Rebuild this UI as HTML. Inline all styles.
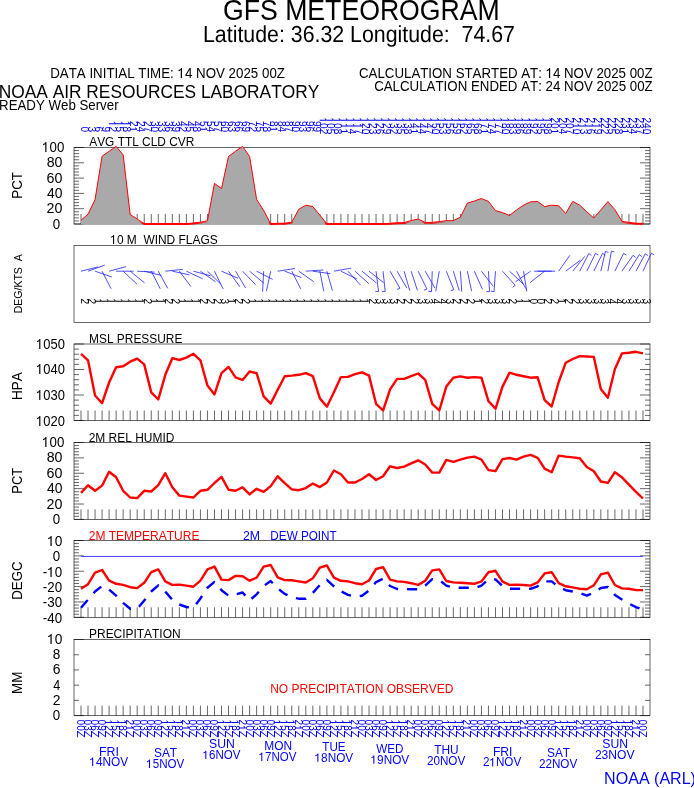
<!DOCTYPE html>
<html><head><meta charset="utf-8"><style>
html,body{margin:0;padding:0;background:#fff;}
body{width:694px;height:788px;overflow:hidden;}
svg{display:block;}
#w{will-change:transform;width:694px;height:788px;}
text{font-family:"Liberation Sans",sans-serif;font-kerning:none;font-variant-ligatures:none;}
</style></head><body><div id="w">
<svg width="694" height="788" viewBox="0 0 694 788" font-family="Liberation Sans, sans-serif">
<rect width="694" height="788" fill="#fff"/>
<text transform="translate(222.97,20) scale(0.9170,1)" font-size="29.07" fill="#000" xml:space="preserve">GFS METEOROGRAM</text>
<text transform="translate(202.99,42) scale(0.9176,1)" font-size="23.26" fill="#000" xml:space="preserve" style="text-rendering:geometricPrecision">Latitude: 36.32 Longitude:  74.67</text>
<g transform="translate(50.13,78) scale(0.9179,1)" fill="#000"><text font-size="14.53" xml:space="preserve">DATA INITIAL TIME:  4 NOV 2025 00Z</text><path transform="translate(138.9,0) scale(14.53)" d="M0.235 0H0.325V-0.688H0.262Q0.24-0.6 0.07-0.545V-0.47Q0.18-0.49 0.235-0.545Z"/></g>
<g transform="translate(359.04,78) scale(0.9143,1)" fill="#000"><text font-size="14.53" xml:space="preserve">CALCULATION STARTED AT:  4 NOV 2025 00Z</text><path transform="translate(204.33,0) scale(14.53)" d="M0.235 0H0.325V-0.688H0.262Q0.24-0.6 0.07-0.545V-0.47Q0.18-0.49 0.235-0.545Z"/></g>
<text transform="translate(374.13,91) scale(0.9158,1)" font-size="14.53" fill="#000" xml:space="preserve">CALCULATION ENDED AT: 24 NOV 2025 00Z</text>
<text transform="translate(-1.29,98) scale(0.9172,1)" font-size="18.9" fill="#000" xml:space="preserve">NOAA AIR RESOURCES LABORATORY</text>
<text transform="translate(-0.96,110) scale(0.9150,1)" font-size="14.53" fill="#000" xml:space="preserve">READY Web Server</text>
<rect x="74.0" y="147.5" width="576.0" height="76.5" fill="none" stroke="#000" stroke-width="0.6"/>
<path d="M81 224v-10M88.03 224v-10M95.05 224v-10M102.08 224v-10M109.1 224v-10M116.12 224v-10M123.15 224v-10M130.18 224v-10M137.2 224v-10M144.22 224v-10M151.25 224v-10M158.28 224v-10M165.3 224v-10M172.32 224v-10M179.35 224v-10M186.38 224v-10M193.4 224v-10M200.43 224v-10M207.45 224v-10M214.47 224v-10M221.5 224v-10M228.53 224v-10M235.55 224v-10M242.58 224v-10M249.6 224v-10M256.62 224v-10M263.65 224v-10M270.68 224v-10M277.7 224v-10M284.73 224v-10M291.75 224v-10M298.77 224v-10M305.8 224v-10M312.83 224v-10M319.85 224v-10M326.88 224v-10M333.9 224v-10M340.93 224v-10M347.95 224v-10M354.98 224v-10M362 224v-10M369.03 224v-10M376.05 224v-10M383.07 224v-10M390.1 224v-10M397.12 224v-10M404.15 224v-10M411.18 224v-10M418.2 224v-10M425.23 224v-10M432.25 224v-10M439.28 224v-10M446.3 224v-10M453.33 224v-10M460.35 224v-10M467.38 224v-10M474.4 224v-10M481.43 224v-10M488.45 224v-10M495.48 224v-10M502.5 224v-10M509.53 224v-10M516.55 224v-10M523.58 224v-10M530.6 224v-10M537.62 224v-10M544.65 224v-10M551.67 224v-10M558.7 224v-10M565.73 224v-10M572.75 224v-10M579.78 224v-10M586.8 224v-10M593.83 224v-10M600.85 224v-10M607.88 224v-10M614.9 224v-10M621.93 224v-10M628.95 224v-10M635.98 224v-10M643 224v-10" stroke="#000" stroke-width="0.6" fill="none"/>
<path d="M74.0 224h10M650.0 224h-10M74.0 220.94h5M650.0 220.94h-5M74.0 217.88h5M650.0 217.88h-5M74.0 214.82h5M650.0 214.82h-5M74.0 211.76h5M650.0 211.76h-5M74.0 208.7h10M650.0 208.7h-10M74.0 205.64h5M650.0 205.64h-5M74.0 202.58h5M650.0 202.58h-5M74.0 199.52h5M650.0 199.52h-5M74.0 196.46h5M650.0 196.46h-5M74.0 193.4h10M650.0 193.4h-10M74.0 190.34h5M650.0 190.34h-5M74.0 187.28h5M650.0 187.28h-5M74.0 184.22h5M650.0 184.22h-5M74.0 181.16h5M650.0 181.16h-5M74.0 178.1h10M650.0 178.1h-10M74.0 175.04h5M650.0 175.04h-5M74.0 171.98h5M650.0 171.98h-5M74.0 168.92h5M650.0 168.92h-5M74.0 165.86h5M650.0 165.86h-5M74.0 162.8h10M650.0 162.8h-10M74.0 159.74h5M650.0 159.74h-5M74.0 156.68h5M650.0 156.68h-5M74.0 153.62h5M650.0 153.62h-5M74.0 150.56h5M650.0 150.56h-5M74.0 147.5h10M650.0 147.5h-10" stroke="#000" stroke-width="0.6" fill="none"/>
<polygon points="81,224.5 81,220.2 88.03,214.2 95.05,199.5 102.08,156.2 109.1,151.3 116.12,146.4 123.15,154.8 130.18,214.5 137.2,219 144.22,223.8 151.25,223.8 158.28,223.8 165.3,223.8 172.32,223.8 179.35,223.8 186.38,223.8 193.4,223 200.43,222.2 207.45,220.9 214.47,183.4 221.5,188.6 228.53,156.4 235.55,151.2 242.58,146.4 249.6,156.4 256.62,199.4 263.65,210.4 270.68,223.8 277.7,223.4 284.73,223.4 291.75,222.2 298.77,209.3 305.8,205.2 312.83,206.6 319.85,215.1 326.88,223.8 333.9,223.8 340.93,223.6 347.95,223.6 354.98,223.6 362,223.6 369.03,223.6 376.05,223.6 383.07,223.6 390.1,223.4 397.12,222.8 404.15,222.6 411.18,220.5 418.2,219.1 425.23,222.4 432.25,222.4 439.28,221.6 446.3,220.7 453.33,220.6 460.35,217.2 467.38,203.1 474.4,201 481.43,198.5 488.45,201.4 495.48,210.6 502.5,212.6 509.53,215.5 516.55,209.9 523.58,205.2 530.6,201.8 537.62,201.5 544.65,206.6 551.67,205.2 558.7,205.8 565.73,213.5 572.75,201.4 579.78,205.2 586.8,211.8 593.83,218 600.85,209.9 607.88,201.6 614.9,209.7 621.93,221.3 628.95,222.4 635.98,223.4 643,223.4 643,224.5" fill="#a9a9a9" stroke="none"/>
<polyline points="81,220.2 88.03,214.2 95.05,199.5 102.08,156.2 109.1,151.3 116.12,146.4 123.15,154.8 130.18,214.5 137.2,219 144.22,223.8 151.25,223.8 158.28,223.8 165.3,223.8 172.32,223.8 179.35,223.8 186.38,223.8 193.4,223 200.43,222.2 207.45,220.9 214.47,183.4 221.5,188.6 228.53,156.4 235.55,151.2 242.58,146.4 249.6,156.4 256.62,199.4 263.65,210.4 270.68,223.8 277.7,223.4 284.73,223.4 291.75,222.2 298.77,209.3 305.8,205.2 312.83,206.6 319.85,215.1 326.88,223.8 333.9,223.8 340.93,223.6 347.95,223.6 354.98,223.6 362,223.6 369.03,223.6 376.05,223.6 383.07,223.6 390.1,223.4 397.12,222.8 404.15,222.6 411.18,220.5 418.2,219.1 425.23,222.4 432.25,222.4 439.28,221.6 446.3,220.7 453.33,220.6 460.35,217.2 467.38,203.1 474.4,201 481.43,198.5 488.45,201.4 495.48,210.6 502.5,212.6 509.53,215.5 516.55,209.9 523.58,205.2 530.6,201.8 537.62,201.5 544.65,206.6 551.67,205.2 558.7,205.8 565.73,213.5 572.75,201.4 579.78,205.2 586.8,211.8 593.83,218 600.85,209.9 607.88,201.6 614.9,209.7 621.93,221.3 628.95,222.4 635.98,223.4 643,223.4" fill="none" stroke="#f00" stroke-width="1.0" stroke-linejoin="round"/>
<clipPath id="cb"><rect x="70" y="222.6" width="590" height="4"/></clipPath>
<polyline points="81,220.6 88.03,214.6 95.05,199.9 102.08,156.6 109.1,151.7 116.12,146.8 123.15,155.2 130.18,214.9 137.2,219.4 144.22,224 151.25,224 158.28,224 165.3,224 172.32,224 179.35,224 186.38,224 193.4,223.4 200.43,222.6 207.45,221.3 214.47,183.8 221.5,189 228.53,156.8 235.55,151.6 242.58,146.8 249.6,156.8 256.62,199.8 263.65,210.8 270.68,224 277.7,223.8 284.73,223.8 291.75,222.6 298.77,209.7 305.8,205.6 312.83,207 319.85,215.5 326.88,224 333.9,224 340.93,224 347.95,224 354.98,224 362,224 369.03,224 376.05,224 383.07,224 390.1,223.8 397.12,223.2 404.15,223 411.18,220.9 418.2,219.5 425.23,222.8 432.25,222.8 439.28,222 446.3,221.1 453.33,221 460.35,217.6 467.38,203.5 474.4,201.4 481.43,198.9 488.45,201.8 495.48,211 502.5,213 509.53,215.9 516.55,210.3 523.58,205.6 530.6,202.2 537.62,201.9 544.65,207 551.67,205.6 558.7,206.2 565.73,213.9 572.75,201.8 579.78,205.6 586.8,212.2 593.83,218.4 600.85,210.3 607.88,202 614.9,210.1 621.93,221.7 628.95,222.8 635.98,223.8 643,223.8" fill="none" stroke="#f00" stroke-width="2.0" stroke-linejoin="round" clip-path="url(#cb)"/>
<rect x="74.0" y="245.5" width="576.0" height="76.8" fill="none" stroke="#000" stroke-width="0.6"/>
<path d="M81 271.2L98.12 266.93" stroke="#22f" stroke-width="0.8" fill="none"/>
<path d="M88.03 271.2L104.74 265.12" stroke="#22f" stroke-width="0.8" fill="none"/>
<path d="M95.05 271.2L111.84 276.98" stroke="#22f" stroke-width="0.8" fill="none"/>
<path d="M102.08 271.2L111.04 288.8" stroke="#22f" stroke-width="0.8" fill="none"/>
<path d="M109.1 271.2L126.16 266.63" stroke="#22f" stroke-width="0.8" fill="none"/>
<path d="M116.12 271.2L133.62 271.2" stroke="#22f" stroke-width="0.8" fill="none"/>
<path d="M123.15 271.2L136.84 283.97" stroke="#22f" stroke-width="0.8" fill="none"/>
<path d="M130.18 271.2L144.57 282.86" stroke="#22f" stroke-width="0.8" fill="none"/>
<path d="M137.2 271.2L154.68 272.12" stroke="#22f" stroke-width="0.8" fill="none"/>
<path d="M144.22 271.2L161.34 275.47" stroke="#22f" stroke-width="0.8" fill="none"/>
<path d="M151.25 271.2L160.22 288.8" stroke="#22f" stroke-width="0.8" fill="none"/>
<path d="M158.28 271.2L167.81 288.39" stroke="#22f" stroke-width="0.8" fill="none"/>
<path d="M165.3 271.2L182.73 269.37" stroke="#22f" stroke-width="0.8" fill="none"/>
<path d="M172.32 271.2L189.54 274.86" stroke="#22f" stroke-width="0.8" fill="none"/>
<path d="M179.35 271.2L190.93 286.57" stroke="#22f" stroke-width="0.8" fill="none"/>
<path d="M186.38 271.2L202.63 278.78" stroke="#22f" stroke-width="0.8" fill="none"/>
<path d="M193.4 271.2L210.46 275.77" stroke="#22f" stroke-width="0.8" fill="none"/>
<path d="M200.43 271.2L215.45 281.72" stroke="#22f" stroke-width="0.8" fill="none"/>
<path d="M207.45 271.2L220.95 284.24" stroke="#22f" stroke-width="0.8" fill="none"/>
<path d="M214.47 271.2L223.16 289" stroke="#22f" stroke-width="0.8" fill="none"/>
<path d="M221.5 271.2L237.95 278.18" stroke="#22f" stroke-width="0.8" fill="none"/>
<path d="M228.53 271.2L239.87 286.81" stroke="#22f" stroke-width="0.8" fill="none"/>
<path d="M235.55 271.2L245.62 287.96" stroke="#22f" stroke-width="0.8" fill="none"/>
<path d="M242.58 271.2L255.69 284.78" stroke="#22f" stroke-width="0.8" fill="none"/>
<path d="M249.6 271.2L263.83 283.14" stroke="#22f" stroke-width="0.8" fill="none"/>
<path d="M256.62 271.2L272.67 279.38" stroke="#22f" stroke-width="0.8" fill="none"/>
<path d="M263.65 271.2L262.58 291.66" stroke="#22f" stroke-width="0.8" fill="none"/>
<path d="M270.68 271.2L266.45 291.09" stroke="#22f" stroke-width="0.8" fill="none"/>
<path d="M277.7 271.2L295.04 268.45" stroke="#22f" stroke-width="0.8" fill="none"/>
<path d="M284.73 271.2L301.35 277.58" stroke="#22f" stroke-width="0.8" fill="none"/>
<path d="M291.75 271.2L300.72 288.8" stroke="#22f" stroke-width="0.8" fill="none"/>
<path d="M298.77 271.2L313.8 281.72" stroke="#22f" stroke-width="0.8" fill="none"/>
<path d="M305.8 271.2L323.27 269.98" stroke="#22f" stroke-width="0.8" fill="none"/>
<path d="M312.83 271.2L330.2 273.64" stroke="#22f" stroke-width="0.8" fill="none"/>
<path d="M319.85 271.2L323.74 291.19" stroke="#22f" stroke-width="0.8" fill="none"/>
<path d="M326.88 271.2L332.45 290.63" stroke="#22f" stroke-width="0.8" fill="none"/>
<path d="M333.9 271.2L351.21 268.15" stroke="#22f" stroke-width="0.8" fill="none"/>
<path d="M340.93 271.2L357.08 279.08" stroke="#22f" stroke-width="0.8" fill="none"/>
<path d="M347.95 271.2L360.65 285.3" stroke="#22f" stroke-width="0.8" fill="none"/>
<path d="M354.98 271.2L368.85 283.69" stroke="#22f" stroke-width="0.8" fill="none"/>
<path d="M362 271.2L376.4 282.86" stroke="#22f" stroke-width="0.8" fill="none"/>
<path d="M369.03 271.2L383.58 282.57" stroke="#22f" stroke-width="0.8" fill="none"/>
<path d="M376.05 271.2L378.54 291.49l-3.2 0.11" stroke="#22f" stroke-width="0.8" fill="none"/>
<path d="M383.07 271.2L385.21 291.55l-3.2 0.06" stroke="#22f" stroke-width="0.8" fill="none"/>
<path d="M390.1 271.2L399.9 288.18l-2.9 1.35" stroke="#22f" stroke-width="0.8" fill="none"/>
<path d="M397.12 271.2L406.93 288.18" stroke="#22f" stroke-width="0.8" fill="none"/>
<path d="M404.15 271.2L409.72 290.63" stroke="#22f" stroke-width="0.8" fill="none"/>
<path d="M411.18 271.2L417.4 290.36" stroke="#22f" stroke-width="0.8" fill="none"/>
<path d="M418.2 271.2L426.88 289l-2.99 1.15" stroke="#22f" stroke-width="0.8" fill="none"/>
<path d="M425.23 271.2L435.03 288.18" stroke="#22f" stroke-width="0.8" fill="none"/>
<path d="M432.25 271.2L431.53 291.68l-3.18 -0.39" stroke="#22f" stroke-width="0.8" fill="none"/>
<path d="M439.28 271.2L435.74 291.28" stroke="#22f" stroke-width="0.8" fill="none"/>
<path d="M446.3 271.2L453.79 289.73l-3.06 0.94" stroke="#22f" stroke-width="0.8" fill="none"/>
<path d="M453.33 271.2L459.23 290.5" stroke="#22f" stroke-width="0.8" fill="none"/>
<path d="M460.35 271.2L461.78 291.63" stroke="#22f" stroke-width="0.8" fill="none"/>
<path d="M467.38 271.2L471.6 291.09" stroke="#22f" stroke-width="0.8" fill="none"/>
<path d="M474.4 271.2L482.49 289.38" stroke="#22f" stroke-width="0.8" fill="none"/>
<path d="M481.43 271.2L493.24 286.32" stroke="#22f" stroke-width="0.8" fill="none"/>
<path d="M488.45 271.2L489.52 291.66l-3.2 -0.11" stroke="#22f" stroke-width="0.8" fill="none"/>
<path d="M495.48 271.2L494.05 291.63l-3.16 -0.5" stroke="#22f" stroke-width="0.8" fill="none"/>
<path d="M502.5 271.2L515.2 285.3l-2.56 1.93" stroke="#22f" stroke-width="0.8" fill="none"/>
<path d="M509.53 271.2L523.22 283.97" stroke="#22f" stroke-width="0.8" fill="none"/>
<path d="M516.55 271.2L525.8 288.6" stroke="#22f" stroke-width="0.8" fill="none"/>
<path d="M523.58 271.2L526.77 291.36" stroke="#22f" stroke-width="0.8" fill="none"/>
<path d="M530.6 271.2L515.58 281.72" stroke="#22f" stroke-width="0.8" fill="none"/>
<path d="M537.62 271.2L555.12 271.2" stroke="#22f" stroke-width="0.8" fill="none"/>
<path d="M544.65 271.2L530.09 282.57" stroke="#22f" stroke-width="0.8" fill="none"/>
<path d="M551.67 271.2L534.17 271.2" stroke="#22f" stroke-width="0.8" fill="none"/>
<path d="M558.7 271.2L569.8 255.35" stroke="#22f" stroke-width="0.8" fill="none"/>
<path d="M565.73 271.2L580.44 260.11" stroke="#22f" stroke-width="0.8" fill="none"/>
<path d="M572.75 271.2L584.79 256.33" stroke="#22f" stroke-width="0.8" fill="none"/>
<path d="M579.78 271.2L588.74 253.6l2.71 1.7" stroke="#22f" stroke-width="0.8" fill="none"/>
<path d="M586.8 271.2L595.48 253.4l2.74 1.65" stroke="#22f" stroke-width="0.8" fill="none"/>
<path d="M593.83 271.2L602.51 253.4l2.74 1.65" stroke="#22f" stroke-width="0.8" fill="none"/>
<path d="M600.85 271.2L605.42 251.41l3.04 0.99" stroke="#22f" stroke-width="0.8" fill="none"/>
<path d="M607.88 271.2L611.41 251.12l3.09 0.83" stroke="#22f" stroke-width="0.8" fill="none"/>
<path d="M614.9 271.2L623.58 253.4l2.74 1.65" stroke="#22f" stroke-width="0.8" fill="none"/>
<path d="M621.93 271.2L633.02 255.35l2.45 2.06" stroke="#22f" stroke-width="0.8" fill="none"/>
<path d="M628.95 271.2L639.29 254.66l2.56 1.93" stroke="#22f" stroke-width="0.8" fill="none"/>
<path d="M635.98 271.2L645.23 253.8l2.68 1.74" stroke="#22f" stroke-width="0.8" fill="none"/>
<path d="M643 271.2L651.39 253.21l2.77 1.6" stroke="#22f" stroke-width="0.8" fill="none"/>
<g fill="#000" font-size="10"><text transform="translate(80.7,298.4) rotate(90)">2</text></g>
<g fill="#000" font-size="10"><text transform="translate(87.73,298.4) rotate(90)">2</text></g>
<g fill="#000" font-size="10"><path transform="translate(94.75,298.4) rotate(90) scale(10)" d="M0.23 0V-0.705H0.33V0ZM0.23-0.705L0.085-0.55V-0.47L0.23-0.59Z"/></g>
<g fill="#000" font-size="10"><path transform="translate(101.78,298.4) rotate(90) scale(10)" d="M0.23 0V-0.705H0.33V0ZM0.23-0.705L0.085-0.55V-0.47L0.23-0.59Z"/></g>
<g fill="#000" font-size="10"><path transform="translate(108.8,298.4) rotate(90) scale(10)" d="M0.23 0V-0.705H0.33V0ZM0.23-0.705L0.085-0.55V-0.47L0.23-0.59Z"/></g>
<g fill="#000" font-size="10"><path transform="translate(115.83,298.4) rotate(90) scale(10)" d="M0.23 0V-0.705H0.33V0ZM0.23-0.705L0.085-0.55V-0.47L0.23-0.59Z"/></g>
<g fill="#000" font-size="10"><path transform="translate(122.85,298.4) rotate(90) scale(10)" d="M0.23 0V-0.705H0.33V0ZM0.23-0.705L0.085-0.55V-0.47L0.23-0.59Z"/></g>
<g fill="#000" font-size="10"><path transform="translate(129.88,298.4) rotate(90) scale(10)" d="M0.23 0V-0.705H0.33V0ZM0.23-0.705L0.085-0.55V-0.47L0.23-0.59Z"/></g>
<g fill="#000" font-size="10"><path transform="translate(136.9,298.4) rotate(90) scale(10)" d="M0.23 0V-0.705H0.33V0ZM0.23-0.705L0.085-0.55V-0.47L0.23-0.59Z"/></g>
<g fill="#000" font-size="10"><text transform="translate(143.92,298.4) rotate(90)">2</text></g>
<g fill="#000" font-size="10"><path transform="translate(150.95,298.4) rotate(90) scale(10)" d="M0.23 0V-0.705H0.33V0ZM0.23-0.705L0.085-0.55V-0.47L0.23-0.59Z"/></g>
<g fill="#000" font-size="10"><path transform="translate(157.97,298.4) rotate(90) scale(10)" d="M0.23 0V-0.705H0.33V0ZM0.23-0.705L0.085-0.55V-0.47L0.23-0.59Z"/></g>
<g fill="#000" font-size="10"><text transform="translate(165,298.4) rotate(90)">2</text></g>
<g fill="#000" font-size="10"><text transform="translate(172.02,298.4) rotate(90)">2</text></g>
<g fill="#000" font-size="10"><path transform="translate(179.05,298.4) rotate(90) scale(10)" d="M0.23 0V-0.705H0.33V0ZM0.23-0.705L0.085-0.55V-0.47L0.23-0.59Z"/></g>
<g fill="#000" font-size="10"><path transform="translate(186.07,298.4) rotate(90) scale(10)" d="M0.23 0V-0.705H0.33V0ZM0.23-0.705L0.085-0.55V-0.47L0.23-0.59Z"/></g>
<g fill="#000" font-size="10"><path transform="translate(193.1,298.4) rotate(90) scale(10)" d="M0.23 0V-0.705H0.33V0ZM0.23-0.705L0.085-0.55V-0.47L0.23-0.59Z"/></g>
<g fill="#000" font-size="10"><text transform="translate(200.12,298.4) rotate(90)">2</text></g>
<g fill="#000" font-size="10"><text transform="translate(207.15,298.4) rotate(90)">2</text></g>
<g fill="#000" font-size="10"><text transform="translate(214.17,298.4) rotate(90)">2</text></g>
<g fill="#000" font-size="10"><text transform="translate(221.2,298.4) rotate(90)">3</text></g>
<g fill="#000" font-size="10"><path transform="translate(228.22,298.4) rotate(90) scale(10)" d="M0.23 0V-0.705H0.33V0ZM0.23-0.705L0.085-0.55V-0.47L0.23-0.59Z"/></g>
<g fill="#000" font-size="10"><text transform="translate(235.25,298.4) rotate(90)">2</text></g>
<g fill="#000" font-size="10"><text transform="translate(242.28,298.4) rotate(90)">2</text></g>
<g fill="#000" font-size="10"><path transform="translate(249.3,298.4) rotate(90) scale(10)" d="M0.23 0V-0.705H0.33V0ZM0.23-0.705L0.085-0.55V-0.47L0.23-0.59Z"/></g>
<g fill="#000" font-size="10"><path transform="translate(256.32,298.4) rotate(90) scale(10)" d="M0.23 0V-0.705H0.33V0ZM0.23-0.705L0.085-0.55V-0.47L0.23-0.59Z"/></g>
<g fill="#000" font-size="10"><path transform="translate(263.35,298.4) rotate(90) scale(10)" d="M0.23 0V-0.705H0.33V0ZM0.23-0.705L0.085-0.55V-0.47L0.23-0.59Z"/></g>
<g fill="#000" font-size="10"><path transform="translate(270.38,298.4) rotate(90) scale(10)" d="M0.23 0V-0.705H0.33V0ZM0.23-0.705L0.085-0.55V-0.47L0.23-0.59Z"/></g>
<g fill="#000" font-size="10"><path transform="translate(277.4,298.4) rotate(90) scale(10)" d="M0.23 0V-0.705H0.33V0ZM0.23-0.705L0.085-0.55V-0.47L0.23-0.59Z"/></g>
<g fill="#000" font-size="10"><path transform="translate(284.43,298.4) rotate(90) scale(10)" d="M0.23 0V-0.705H0.33V0ZM0.23-0.705L0.085-0.55V-0.47L0.23-0.59Z"/></g>
<g fill="#000" font-size="10"><path transform="translate(291.45,298.4) rotate(90) scale(10)" d="M0.23 0V-0.705H0.33V0ZM0.23-0.705L0.085-0.55V-0.47L0.23-0.59Z"/></g>
<g fill="#000" font-size="10"><path transform="translate(298.47,298.4) rotate(90) scale(10)" d="M0.23 0V-0.705H0.33V0ZM0.23-0.705L0.085-0.55V-0.47L0.23-0.59Z"/></g>
<g fill="#000" font-size="10"><path transform="translate(305.5,298.4) rotate(90) scale(10)" d="M0.23 0V-0.705H0.33V0ZM0.23-0.705L0.085-0.55V-0.47L0.23-0.59Z"/></g>
<g fill="#000" font-size="10"><path transform="translate(312.53,298.4) rotate(90) scale(10)" d="M0.23 0V-0.705H0.33V0ZM0.23-0.705L0.085-0.55V-0.47L0.23-0.59Z"/></g>
<g fill="#000" font-size="10"><path transform="translate(319.55,298.4) rotate(90) scale(10)" d="M0.23 0V-0.705H0.33V0ZM0.23-0.705L0.085-0.55V-0.47L0.23-0.59Z"/></g>
<g fill="#000" font-size="10"><path transform="translate(326.57,298.4) rotate(90) scale(10)" d="M0.23 0V-0.705H0.33V0ZM0.23-0.705L0.085-0.55V-0.47L0.23-0.59Z"/></g>
<g fill="#000" font-size="10"><path transform="translate(333.6,298.4) rotate(90) scale(10)" d="M0.23 0V-0.705H0.33V0ZM0.23-0.705L0.085-0.55V-0.47L0.23-0.59Z"/></g>
<g fill="#000" font-size="10"><path transform="translate(340.62,298.4) rotate(90) scale(10)" d="M0.23 0V-0.705H0.33V0ZM0.23-0.705L0.085-0.55V-0.47L0.23-0.59Z"/></g>
<g fill="#000" font-size="10"><path transform="translate(347.65,298.4) rotate(90) scale(10)" d="M0.23 0V-0.705H0.33V0ZM0.23-0.705L0.085-0.55V-0.47L0.23-0.59Z"/></g>
<g fill="#000" font-size="10"><path transform="translate(354.68,298.4) rotate(90) scale(10)" d="M0.23 0V-0.705H0.33V0ZM0.23-0.705L0.085-0.55V-0.47L0.23-0.59Z"/></g>
<g fill="#000" font-size="10"><path transform="translate(361.7,298.4) rotate(90) scale(10)" d="M0.23 0V-0.705H0.33V0ZM0.23-0.705L0.085-0.55V-0.47L0.23-0.59Z"/></g>
<g fill="#000" font-size="10"><text transform="translate(368.73,298.4) rotate(90)">2</text></g>
<g fill="#000" font-size="10"><text transform="translate(375.75,298.4) rotate(90)">3</text></g>
<g fill="#000" font-size="10"><text transform="translate(382.77,298.4) rotate(90)">3</text></g>
<g fill="#000" font-size="10"><text transform="translate(389.8,298.4) rotate(90)">3</text></g>
<g fill="#000" font-size="10"><text transform="translate(396.82,298.4) rotate(90)">2</text></g>
<g fill="#000" font-size="10"><text transform="translate(403.85,298.4) rotate(90)">2</text></g>
<g fill="#000" font-size="10"><text transform="translate(410.88,298.4) rotate(90)">2</text></g>
<g fill="#000" font-size="10"><text transform="translate(417.9,298.4) rotate(90)">3</text></g>
<g fill="#000" font-size="10"><text transform="translate(424.93,298.4) rotate(90)">3</text></g>
<g fill="#000" font-size="10"><text transform="translate(431.95,298.4) rotate(90)">4</text></g>
<g fill="#000" font-size="10"><text transform="translate(438.98,298.4) rotate(90)">4</text></g>
<g fill="#000" font-size="10"><text transform="translate(446,298.4) rotate(90)">3</text></g>
<g fill="#000" font-size="10"><text transform="translate(453.03,298.4) rotate(90)">2</text></g>
<g fill="#000" font-size="10"><text transform="translate(460.05,298.4) rotate(90)">2</text></g>
<g fill="#000" font-size="10"><text transform="translate(467.07,298.4) rotate(90)">2</text></g>
<g fill="#000" font-size="10"><path transform="translate(474.1,298.4) rotate(90) scale(10)" d="M0.23 0V-0.705H0.33V0ZM0.23-0.705L0.085-0.55V-0.47L0.23-0.59Z"/></g>
<g fill="#000" font-size="10"><text transform="translate(481.12,298.4) rotate(90)">2</text></g>
<g fill="#000" font-size="10"><text transform="translate(488.15,298.4) rotate(90)">3</text></g>
<g fill="#000" font-size="10"><text transform="translate(495.18,298.4) rotate(90)">3</text></g>
<g fill="#000" font-size="10"><text transform="translate(502.2,298.4) rotate(90)">3</text></g>
<g fill="#000" font-size="10"><text transform="translate(509.23,298.4) rotate(90)">2</text></g>
<g fill="#000" font-size="10"><path transform="translate(516.25,298.4) rotate(90) scale(10)" d="M0.23 0V-0.705H0.33V0ZM0.23-0.705L0.085-0.55V-0.47L0.23-0.59Z"/></g>
<g fill="#000" font-size="10"><path transform="translate(523.28,298.4) rotate(90) scale(10)" d="M0.23 0V-0.705H0.33V0ZM0.23-0.705L0.085-0.55V-0.47L0.23-0.59Z"/></g>
<g fill="#000" font-size="10"><text transform="translate(530.3,298.4) rotate(90)">0</text></g>
<g fill="#000" font-size="10"><text transform="translate(537.33,298.4) rotate(90)">0</text></g>
<g fill="#000" font-size="10"><text transform="translate(544.35,298.4) rotate(90)">2</text></g>
<g fill="#000" font-size="10"><text transform="translate(551.38,298.4) rotate(90)">2</text></g>
<g fill="#000" font-size="10"><path transform="translate(558.4,298.4) rotate(90) scale(10)" d="M0.23 0V-0.705H0.33V0ZM0.23-0.705L0.085-0.55V-0.47L0.23-0.59Z"/></g>
<g fill="#000" font-size="10"><text transform="translate(565.43,298.4) rotate(90)">2</text></g>
<g fill="#000" font-size="10"><text transform="translate(572.45,298.4) rotate(90)">2</text></g>
<g fill="#000" font-size="10"><text transform="translate(579.48,298.4) rotate(90)">3</text></g>
<g fill="#000" font-size="10"><text transform="translate(586.5,298.4) rotate(90)">3</text></g>
<g fill="#000" font-size="10"><text transform="translate(593.53,298.4) rotate(90)">3</text></g>
<g fill="#000" font-size="10"><text transform="translate(600.55,298.4) rotate(90)">3</text></g>
<g fill="#000" font-size="10"><text transform="translate(607.58,298.4) rotate(90)">4</text></g>
<g fill="#000" font-size="10"><text transform="translate(614.6,298.4) rotate(90)">4</text></g>
<g fill="#000" font-size="10"><text transform="translate(621.63,298.4) rotate(90)">3</text></g>
<g fill="#000" font-size="10"><text transform="translate(628.65,298.4) rotate(90)">3</text></g>
<g fill="#000" font-size="10"><text transform="translate(635.68,298.4) rotate(90)">3</text></g>
<g fill="#000" font-size="10"><text transform="translate(642.7,298.4) rotate(90)">3</text></g>
<path d="M81 420.5v-10M88.03 420.5v-10M95.05 420.5v-10M102.08 420.5v-10M109.1 420.5v-10M116.12 420.5v-10M123.15 420.5v-10M130.18 420.5v-10M137.2 420.5v-10M144.22 420.5v-10M151.25 420.5v-10M158.28 420.5v-10M165.3 420.5v-10M172.32 420.5v-10M179.35 420.5v-10M186.38 420.5v-10M193.4 420.5v-10M200.43 420.5v-10M207.45 420.5v-10M214.47 420.5v-10M221.5 420.5v-10M228.53 420.5v-10M235.55 420.5v-10M242.58 420.5v-10M249.6 420.5v-10M256.62 420.5v-10M263.65 420.5v-10M270.68 420.5v-10M277.7 420.5v-10M284.73 420.5v-10M291.75 420.5v-10M298.77 420.5v-10M305.8 420.5v-10M312.83 420.5v-10M319.85 420.5v-10M326.88 420.5v-10M333.9 420.5v-10M340.93 420.5v-10M347.95 420.5v-10M354.98 420.5v-10M362 420.5v-10M369.03 420.5v-10M376.05 420.5v-10M383.07 420.5v-10M390.1 420.5v-10M397.12 420.5v-10M404.15 420.5v-10M411.18 420.5v-10M418.2 420.5v-10M425.23 420.5v-10M432.25 420.5v-10M439.28 420.5v-10M446.3 420.5v-10M453.33 420.5v-10M460.35 420.5v-10M467.38 420.5v-10M474.4 420.5v-10M481.43 420.5v-10M488.45 420.5v-10M495.48 420.5v-10M502.5 420.5v-10M509.53 420.5v-10M516.55 420.5v-10M523.58 420.5v-10M530.6 420.5v-10M537.62 420.5v-10M544.65 420.5v-10M551.67 420.5v-10M558.7 420.5v-10M565.73 420.5v-10M572.75 420.5v-10M579.78 420.5v-10M586.8 420.5v-10M593.83 420.5v-10M600.85 420.5v-10M607.88 420.5v-10M614.9 420.5v-10M621.93 420.5v-10M628.95 420.5v-10M635.98 420.5v-10M643 420.5v-10" stroke="#000" stroke-width="0.6" fill="none"/>
<path d="M74.0 420.5h10M650.0 420.5h-10M74.0 415.4h5M650.0 415.4h-5M74.0 410.3h5M650.0 410.3h-5M74.0 405.2h5M650.0 405.2h-5M74.0 400.1h5M650.0 400.1h-5M74.0 395h10M650.0 395h-10M74.0 389.9h5M650.0 389.9h-5M74.0 384.8h5M650.0 384.8h-5M74.0 379.7h5M650.0 379.7h-5M74.0 374.6h5M650.0 374.6h-5M74.0 369.5h10M650.0 369.5h-10M74.0 364.4h5M650.0 364.4h-5M74.0 359.3h5M650.0 359.3h-5M74.0 354.2h5M650.0 354.2h-5M74.0 349.1h5M650.0 349.1h-5M74.0 344h10M650.0 344h-10" stroke="#000" stroke-width="0.6" fill="none"/>
<polyline points="81,353.8 88.03,360.3 95.05,395.5 102.08,403.2 109.1,382.5 116.12,367.3 123.15,366.3 130.18,361.7 137.2,358.6 144.22,364.4 151.25,392.4 158.28,399.5 165.3,374.8 172.32,358.2 179.35,360 186.38,357.6 193.4,353.8 200.43,360.3 207.45,385.6 214.47,394.4 221.5,373.1 228.53,366.9 235.55,377.3 242.58,380 249.6,371.5 256.62,373.1 263.65,396.4 270.68,403.6 277.7,389.7 284.73,376.2 291.75,375.6 298.77,374.8 305.8,373.1 312.83,376.2 319.85,398.4 326.88,406.7 333.9,392.3 340.93,377.1 347.95,376.9 354.98,374.2 362,372.3 369.03,375.6 376.05,403.8 383.07,410.5 390.1,389.3 397.12,378.9 404.15,378.9 411.18,376.2 418.2,373.5 425.23,379.8 432.25,403.8 439.28,410.5 446.3,386.6 453.33,377.7 460.35,376.4 467.38,377.8 474.4,377.1 481.43,377.7 488.45,401.1 495.48,408.8 502.5,386.6 509.53,372.7 516.55,374.8 523.58,376.2 530.6,377.7 537.62,377.3 544.65,400.1 551.67,406.5 558.7,382 565.73,362.7 572.75,359 579.78,356.1 586.8,356.5 593.83,356.9 600.85,389 607.88,397.8 614.9,369 621.93,353.4 628.95,352.8 635.98,351.8 643,353.4" fill="none" stroke="#f00" stroke-width="2.4" stroke-linejoin="round"/>
<rect x="74.0" y="344.0" width="576.0" height="76.5" fill="none" stroke="#000" stroke-width="0.6"/>
<path d="M81 519.4v-10M88.03 519.4v-10M95.05 519.4v-10M102.08 519.4v-10M109.1 519.4v-10M116.12 519.4v-10M123.15 519.4v-10M130.18 519.4v-10M137.2 519.4v-10M144.22 519.4v-10M151.25 519.4v-10M158.28 519.4v-10M165.3 519.4v-10M172.32 519.4v-10M179.35 519.4v-10M186.38 519.4v-10M193.4 519.4v-10M200.43 519.4v-10M207.45 519.4v-10M214.47 519.4v-10M221.5 519.4v-10M228.53 519.4v-10M235.55 519.4v-10M242.58 519.4v-10M249.6 519.4v-10M256.62 519.4v-10M263.65 519.4v-10M270.68 519.4v-10M277.7 519.4v-10M284.73 519.4v-10M291.75 519.4v-10M298.77 519.4v-10M305.8 519.4v-10M312.83 519.4v-10M319.85 519.4v-10M326.88 519.4v-10M333.9 519.4v-10M340.93 519.4v-10M347.95 519.4v-10M354.98 519.4v-10M362 519.4v-10M369.03 519.4v-10M376.05 519.4v-10M383.07 519.4v-10M390.1 519.4v-10M397.12 519.4v-10M404.15 519.4v-10M411.18 519.4v-10M418.2 519.4v-10M425.23 519.4v-10M432.25 519.4v-10M439.28 519.4v-10M446.3 519.4v-10M453.33 519.4v-10M460.35 519.4v-10M467.38 519.4v-10M474.4 519.4v-10M481.43 519.4v-10M488.45 519.4v-10M495.48 519.4v-10M502.5 519.4v-10M509.53 519.4v-10M516.55 519.4v-10M523.58 519.4v-10M530.6 519.4v-10M537.62 519.4v-10M544.65 519.4v-10M551.67 519.4v-10M558.7 519.4v-10M565.73 519.4v-10M572.75 519.4v-10M579.78 519.4v-10M586.8 519.4v-10M593.83 519.4v-10M600.85 519.4v-10M607.88 519.4v-10M614.9 519.4v-10M621.93 519.4v-10M628.95 519.4v-10M635.98 519.4v-10M643 519.4v-10" stroke="#000" stroke-width="0.6" fill="none"/>
<path d="M74.0 519.4h10M650.0 519.4h-10M74.0 516.32h5M650.0 516.32h-5M74.0 513.25h5M650.0 513.25h-5M74.0 510.17h5M650.0 510.17h-5M74.0 507.1h5M650.0 507.1h-5M74.0 504.02h10M650.0 504.02h-10M74.0 500.94h5M650.0 500.94h-5M74.0 497.87h5M650.0 497.87h-5M74.0 494.79h5M650.0 494.79h-5M74.0 491.72h5M650.0 491.72h-5M74.0 488.64h10M650.0 488.64h-10M74.0 485.56h5M650.0 485.56h-5M74.0 482.49h5M650.0 482.49h-5M74.0 479.41h5M650.0 479.41h-5M74.0 476.34h5M650.0 476.34h-5M74.0 473.26h10M650.0 473.26h-10M74.0 470.18h5M650.0 470.18h-5M74.0 467.11h5M650.0 467.11h-5M74.0 464.03h5M650.0 464.03h-5M74.0 460.96h5M650.0 460.96h-5M74.0 457.88h10M650.0 457.88h-10M74.0 454.8h5M650.0 454.8h-5M74.0 451.73h5M650.0 451.73h-5M74.0 448.65h5M650.0 448.65h-5M74.0 445.58h5M650.0 445.58h-5M74.0 442.5h10M650.0 442.5h-10" stroke="#000" stroke-width="0.6" fill="none"/>
<polyline points="81,492.9 88.03,485.2 95.05,490.8 102.08,485.6 109.1,471.7 116.12,477.3 123.15,490.8 130.18,497.5 137.2,498.1 144.22,490.8 151.25,491.5 158.28,485.2 165.3,473.2 172.32,487.3 179.35,495.6 186.38,496.6 193.4,497.5 200.43,490.8 207.45,489.8 214.47,483 221.5,476.9 228.53,489.8 235.55,490.8 242.58,487.3 249.6,494.4 256.62,488.8 263.65,491.9 270.68,486.1 277.7,476.3 284.73,483.2 291.75,489.4 298.77,490.2 305.8,488.1 312.83,483.6 319.85,487.1 326.88,482.5 333.9,470.5 340.93,474.2 347.95,482.5 354.98,482.5 362,479 369.03,474.2 376.05,480 383.07,476.3 390.1,466.3 397.12,468 404.15,466.6 411.18,463.4 418.2,460.3 425.23,464.5 432.25,472.6 439.28,472.6 446.3,459.9 453.33,461.8 460.35,459.7 467.38,457.6 474.4,456.6 481.43,459.7 488.45,470.1 495.48,471.1 502.5,459.1 509.53,458 516.55,459.7 523.58,456.6 530.6,454.9 537.62,457.8 544.65,468.6 551.67,472.2 558.7,455.6 565.73,456.6 572.75,457.4 579.78,458.3 586.8,467 593.83,471.3 600.85,481.5 607.88,482.9 614.9,472.2 621.93,477.3 628.95,484.6 635.98,491.9 643,498.5" fill="none" stroke="#f00" stroke-width="2.4" stroke-linejoin="round"/>
<rect x="74.0" y="442.5" width="576.0" height="76.9" fill="none" stroke="#000" stroke-width="0.6"/>
<path d="M81 617.3v-10M88.03 617.3v-10M95.05 617.3v-10M102.08 617.3v-10M109.1 617.3v-10M116.12 617.3v-10M123.15 617.3v-10M130.18 617.3v-10M137.2 617.3v-10M144.22 617.3v-10M151.25 617.3v-10M158.28 617.3v-10M165.3 617.3v-10M172.32 617.3v-10M179.35 617.3v-10M186.38 617.3v-10M193.4 617.3v-10M200.43 617.3v-10M207.45 617.3v-10M214.47 617.3v-10M221.5 617.3v-10M228.53 617.3v-10M235.55 617.3v-10M242.58 617.3v-10M249.6 617.3v-10M256.62 617.3v-10M263.65 617.3v-10M270.68 617.3v-10M277.7 617.3v-10M284.73 617.3v-10M291.75 617.3v-10M298.77 617.3v-10M305.8 617.3v-10M312.83 617.3v-10M319.85 617.3v-10M326.88 617.3v-10M333.9 617.3v-10M340.93 617.3v-10M347.95 617.3v-10M354.98 617.3v-10M362 617.3v-10M369.03 617.3v-10M376.05 617.3v-10M383.07 617.3v-10M390.1 617.3v-10M397.12 617.3v-10M404.15 617.3v-10M411.18 617.3v-10M418.2 617.3v-10M425.23 617.3v-10M432.25 617.3v-10M439.28 617.3v-10M446.3 617.3v-10M453.33 617.3v-10M460.35 617.3v-10M467.38 617.3v-10M474.4 617.3v-10M481.43 617.3v-10M488.45 617.3v-10M495.48 617.3v-10M502.5 617.3v-10M509.53 617.3v-10M516.55 617.3v-10M523.58 617.3v-10M530.6 617.3v-10M537.62 617.3v-10M544.65 617.3v-10M551.67 617.3v-10M558.7 617.3v-10M565.73 617.3v-10M572.75 617.3v-10M579.78 617.3v-10M586.8 617.3v-10M593.83 617.3v-10M600.85 617.3v-10M607.88 617.3v-10M614.9 617.3v-10M621.93 617.3v-10M628.95 617.3v-10M635.98 617.3v-10M643 617.3v-10" stroke="#000" stroke-width="0.6" fill="none"/>
<path d="M74.0 617.3h10M650.0 617.3h-10M74.0 614.23h5M650.0 614.23h-5M74.0 611.16h5M650.0 611.16h-5M74.0 608.08h5M650.0 608.08h-5M74.0 605.01h5M650.0 605.01h-5M74.0 601.94h10M650.0 601.94h-10M74.0 598.87h5M650.0 598.87h-5M74.0 595.8h5M650.0 595.8h-5M74.0 592.72h5M650.0 592.72h-5M74.0 589.65h5M650.0 589.65h-5M74.0 586.58h10M650.0 586.58h-10M74.0 583.51h5M650.0 583.51h-5M74.0 580.44h5M650.0 580.44h-5M74.0 577.36h5M650.0 577.36h-5M74.0 574.29h5M650.0 574.29h-5M74.0 571.22h10M650.0 571.22h-10M74.0 568.15h5M650.0 568.15h-5M74.0 565.08h5M650.0 565.08h-5M74.0 562h5M650.0 562h-5M74.0 558.93h5M650.0 558.93h-5M74.0 555.86h10M650.0 555.86h-10M74.0 552.79h5M650.0 552.79h-5M74.0 549.72h5M650.0 549.72h-5M74.0 546.64h5M650.0 546.64h-5M74.0 543.57h5M650.0 543.57h-5M74.0 540.5h10M650.0 540.5h-10" stroke="#000" stroke-width="0.6" fill="none"/>
<path d="M81 556.45H643" stroke="#44f" stroke-width="1"/>
<polyline points="81,588.8 88.03,584.2 95.05,572.7 102.08,570 109.1,580.7 116.12,583.8 123.15,584.9 130.18,587.2 137.2,588.1 144.22,582.8 151.25,572.2 158.28,569.4 165.3,581.4 172.32,584.9 179.35,584.6 186.38,585.6 193.4,586.7 200.43,580.7 207.45,569.4 214.47,566.6 221.5,579.6 228.53,580.1 235.55,575.9 242.58,576.3 249.6,580.7 256.62,577.7 263.65,566.6 270.68,565 277.7,577.3 284.73,580.1 291.75,580.3 298.77,581.4 305.8,582.5 312.83,578.3 319.85,567.6 326.88,565.5 333.9,577.7 340.93,580.8 347.95,581.4 354.98,583.2 362,584.2 369.03,580.5 376.05,569 383.07,567.2 390.1,579.6 397.12,581.4 404.15,581.9 411.18,583.2 418.2,584.9 425.23,580.7 432.25,570.4 439.28,569.4 446.3,581 453.33,582.4 460.35,582.8 467.38,583.2 474.4,583.8 481.43,581.4 488.45,572.2 495.48,570.8 502.5,581.7 509.53,584.9 516.55,584.6 523.58,585 530.6,585.6 537.62,582.4 544.65,573.4 551.67,572.2 558.7,583.2 565.73,586.3 572.75,587.4 579.78,588.8 586.8,589.2 593.83,585.3 600.85,574.4 607.88,572.6 614.9,585 621.93,588.4 628.95,588.8 635.98,590.1 643,590.1" fill="none" stroke="#f00" stroke-width="2.4" stroke-linejoin="round"/>
<polyline points="81,607.7 88.03,599.7 95.05,591.5 102.08,586 109.1,589.5 116.12,595.7 123.15,602.9 130.18,608.7 137.2,608.8 144.22,600.5 151.25,591.5 158.28,585.3 165.3,591.6 172.32,599.8 179.35,604.5 186.38,607 193.4,607.7 200.43,598.5 207.45,587.7 214.47,581.9 221.5,590.2 228.53,595.7 235.55,594.6 242.58,592.5 249.6,600.4 256.62,594.3 263.65,586 270.68,581 277.7,588.4 284.73,593.9 291.75,597.1 298.77,598.7 305.8,598.7 312.83,592.9 319.85,584.9 326.88,579.8 333.9,586.3 340.93,591.3 347.95,594.9 354.98,596.7 362,595.7 369.03,590.4 376.05,582.1 383.07,578.7 390.1,586 397.12,589 404.15,589 411.18,589.3 418.2,589.3 425.23,585.6 432.25,579.2 439.28,580 446.3,585.6 453.33,587.7 460.35,587.7 467.38,587.7 474.4,588.4 481.43,585.6 488.45,579.4 495.48,579.4 502.5,586 509.53,588.8 516.55,588.8 523.58,588.8 530.6,588.8 537.62,586.3 544.65,581.4 551.67,581.4 558.7,587 565.73,590.2 572.75,591.5 579.78,592.9 586.8,595.6 593.83,592.7 600.85,588 607.88,587 614.9,594.9 621.93,599.5 628.95,603.6 635.98,607.1 643,609.8" fill="none" stroke="#00f" stroke-width="2.4" stroke-linejoin="round" stroke-dasharray="10.2 8.93"/>
<rect x="74.0" y="540.5" width="576.0" height="76.8" fill="none" stroke="#000" stroke-width="0.6"/>
<path d="M81 715.6v-10M88.03 715.6v-10M95.05 715.6v-10M102.08 715.6v-10M109.1 715.6v-10M116.12 715.6v-10M123.15 715.6v-10M130.18 715.6v-10M137.2 715.6v-10M144.22 715.6v-10M151.25 715.6v-10M158.28 715.6v-10M165.3 715.6v-10M172.32 715.6v-10M179.35 715.6v-10M186.38 715.6v-10M193.4 715.6v-10M200.43 715.6v-10M207.45 715.6v-10M214.47 715.6v-10M221.5 715.6v-10M228.53 715.6v-10M235.55 715.6v-10M242.58 715.6v-10M249.6 715.6v-10M256.62 715.6v-10M263.65 715.6v-10M270.68 715.6v-10M277.7 715.6v-10M284.73 715.6v-10M291.75 715.6v-10M298.77 715.6v-10M305.8 715.6v-10M312.83 715.6v-10M319.85 715.6v-10M326.88 715.6v-10M333.9 715.6v-10M340.93 715.6v-10M347.95 715.6v-10M354.98 715.6v-10M362 715.6v-10M369.03 715.6v-10M376.05 715.6v-10M383.07 715.6v-10M390.1 715.6v-10M397.12 715.6v-10M404.15 715.6v-10M411.18 715.6v-10M418.2 715.6v-10M425.23 715.6v-10M432.25 715.6v-10M439.28 715.6v-10M446.3 715.6v-10M453.33 715.6v-10M460.35 715.6v-10M467.38 715.6v-10M474.4 715.6v-10M481.43 715.6v-10M488.45 715.6v-10M495.48 715.6v-10M502.5 715.6v-10M509.53 715.6v-10M516.55 715.6v-10M523.58 715.6v-10M530.6 715.6v-10M537.62 715.6v-10M544.65 715.6v-10M551.67 715.6v-10M558.7 715.6v-10M565.73 715.6v-10M572.75 715.6v-10M579.78 715.6v-10M586.8 715.6v-10M593.83 715.6v-10M600.85 715.6v-10M607.88 715.6v-10M614.9 715.6v-10M621.93 715.6v-10M628.95 715.6v-10M635.98 715.6v-10M643 715.6v-10" stroke="#000" stroke-width="0.6" fill="none"/>
<path d="M74.0 715.6h10M650.0 715.6h-10M74.0 700.38h5M650.0 700.38h-5M74.0 685.16h5M650.0 685.16h-5M74.0 669.94h5M650.0 669.94h-5M74.0 654.72h5M650.0 654.72h-5M74.0 639.5h10M650.0 639.5h-10" stroke="#000" stroke-width="0.6" fill="none"/>
<rect x="74.0" y="639.5" width="576.0" height="76.1" fill="none" stroke="#000" stroke-width="0.6"/>
<text transform="translate(89.2,146) scale(0.9107,1)" font-size="13.08" fill="#000" xml:space="preserve">AVG TTL CLD CVR</text>
<g transform="translate(110.24,244) scale(0.9134,1)" fill="#000"><text font-size="13.08" xml:space="preserve"> 0 M  WIND FLAGS</text><path transform="translate(0,0) scale(13.08)" d="M0.235 0H0.325V-0.688H0.262Q0.24-0.6 0.07-0.545V-0.47Q0.18-0.49 0.235-0.545Z"/></g>
<text transform="translate(89.05,343) scale(0.9112,1)" font-size="13.08" fill="#000" xml:space="preserve">MSL PRESSURE</text>
<text transform="translate(88.7,442) scale(0.9147,1)" font-size="13.08" fill="#000" xml:space="preserve">2M REL HUMID</text>
<text transform="translate(88.7,540) scale(0.9185,1)" font-size="13.08" fill="#f00" xml:space="preserve">2M TEMPERATURE</text>
<text transform="translate(242.88,540) scale(0.9404,1)" font-size="13.08" fill="#00f" xml:space="preserve">2M</text>
<text transform="translate(270.36,540) scale(0.8964,1)" font-size="13.08" fill="#00f" xml:space="preserve">DEW POINT</text>
<text transform="translate(89.04,638) scale(0.9141,1)" font-size="13.08" fill="#000" xml:space="preserve">PRECIPITATION</text>
<text transform="translate(270.14,693) scale(0.9173,1)" font-size="13.08" fill="#f00" xml:space="preserve">NO PRECIPITATION OBSERVED</text>
<text transform="translate(21.7,198.67) rotate(-90) scale(0.9106,1)" font-size="14.68" fill="#000" xml:space="preserve">PCT</text>
<text transform="translate(21.6,313.34) rotate(-90) scale(0.9936,1)" font-size="10.61" fill="#000" xml:space="preserve">DEG/KTS  A</text>
<text transform="translate(21.7,399.98) rotate(-90) scale(0.9232,1)" font-size="14.68" fill="#000" xml:space="preserve">HPA</text>
<text transform="translate(21.7,493.74) rotate(-90) scale(0.8820,1)" font-size="14.68" fill="#000" xml:space="preserve">PCT</text>
<text transform="translate(21.9,599.76) rotate(-90) scale(0.8874,1)" font-size="14.97" fill="#000" xml:space="preserve">DEGC</text>
<text transform="translate(21.7,694.08) rotate(-90) scale(0.9173,1)" font-size="14.68" fill="#000" xml:space="preserve">MM</text>
<g transform="translate(42.14,152) scale(0.9144,1)" fill="#000"><text font-size="14.53" xml:space="preserve"> 00</text><path transform="translate(0,0) scale(14.53)" d="M0.235 0H0.325V-0.688H0.262Q0.24-0.6 0.07-0.545V-0.47Q0.18-0.49 0.235-0.545Z"/></g>
<text transform="translate(46.73,167) scale(0.9752,1)" font-size="14.53" fill="#000" xml:space="preserve">80</text>
<text transform="translate(46.58,183) scale(0.9848,1)" font-size="14.53" fill="#000" xml:space="preserve">60</text>
<text transform="translate(47.02,198) scale(0.9566,1)" font-size="14.53" fill="#000" xml:space="preserve">40</text>
<text transform="translate(46.58,213) scale(0.9848,1)" font-size="14.53" fill="#000" xml:space="preserve">20</text>
<text transform="translate(52.87,229) scale(0.9173,1)" font-size="14.53" fill="#000" xml:space="preserve">0</text>
<g transform="translate(42.14,447) scale(0.9144,1)" fill="#000"><text font-size="14.53" xml:space="preserve"> 00</text><path transform="translate(0,0) scale(14.53)" d="M0.235 0H0.325V-0.688H0.262Q0.24-0.6 0.07-0.545V-0.47Q0.18-0.49 0.235-0.545Z"/></g>
<text transform="translate(46.73,462) scale(0.9752,1)" font-size="14.53" fill="#000" xml:space="preserve">80</text>
<text transform="translate(46.58,478) scale(0.9848,1)" font-size="14.53" fill="#000" xml:space="preserve">60</text>
<text transform="translate(47.02,493) scale(0.9566,1)" font-size="14.53" fill="#000" xml:space="preserve">40</text>
<text transform="translate(46.58,509) scale(0.9848,1)" font-size="14.53" fill="#000" xml:space="preserve">20</text>
<text transform="translate(52.87,524) scale(0.9173,1)" font-size="14.53" fill="#000" xml:space="preserve">0</text>
<g transform="translate(36.16,349) scale(0.8911,1)" fill="#000"><text font-size="14.53" xml:space="preserve"> 050</text><path transform="translate(0,0) scale(14.53)" d="M0.235 0H0.325V-0.688H0.262Q0.24-0.6 0.07-0.545V-0.47Q0.18-0.49 0.235-0.545Z"/></g>
<g transform="translate(36.16,374) scale(0.8911,1)" fill="#000"><text font-size="14.53" xml:space="preserve"> 040</text><path transform="translate(0,0) scale(14.53)" d="M0.235 0H0.325V-0.688H0.262Q0.24-0.6 0.07-0.545V-0.47Q0.18-0.49 0.235-0.545Z"/></g>
<g transform="translate(36.16,400) scale(0.8911,1)" fill="#000"><text font-size="14.53" xml:space="preserve"> 030</text><path transform="translate(0,0) scale(14.53)" d="M0.235 0H0.325V-0.688H0.262Q0.24-0.6 0.07-0.545V-0.47Q0.18-0.49 0.235-0.545Z"/></g>
<g transform="translate(36.16,426) scale(0.8911,1)" fill="#000"><text font-size="14.53" xml:space="preserve"> 020</text><path transform="translate(0,0) scale(14.53)" d="M0.235 0H0.325V-0.688H0.262Q0.24-0.6 0.07-0.545V-0.47Q0.18-0.49 0.235-0.545Z"/></g>
<g transform="translate(47.2,546) scale(0.9451,1)" fill="#000"><text font-size="14.53" xml:space="preserve"> 0</text><path transform="translate(0,0) scale(14.53)" d="M0.235 0H0.325V-0.688H0.262Q0.24-0.6 0.07-0.545V-0.47Q0.18-0.49 0.235-0.545Z"/></g>
<text transform="translate(52.87,561) scale(0.9173,1)" font-size="14.53" fill="#000" xml:space="preserve">0</text>
<g transform="translate(42.87,577) scale(0.9190,1)" fill="#000"><text font-size="14.53" xml:space="preserve">- 0</text><path transform="translate(4.84,0) scale(14.53)" d="M0.235 0H0.325V-0.688H0.262Q0.24-0.6 0.07-0.545V-0.47Q0.18-0.49 0.235-0.545Z"/></g>
<text transform="translate(42.87,592) scale(0.9190,1)" font-size="14.53" fill="#000" xml:space="preserve">-20</text>
<text transform="translate(42.87,607) scale(0.9190,1)" font-size="14.53" fill="#000" xml:space="preserve">-30</text>
<text transform="translate(42.87,623) scale(0.9190,1)" font-size="14.53" fill="#000" xml:space="preserve">-40</text>
<g transform="translate(47.2,644) scale(0.9451,1)" fill="#000"><text font-size="14.53" xml:space="preserve"> 0</text><path transform="translate(0,0) scale(14.53)" d="M0.235 0H0.325V-0.688H0.262Q0.24-0.6 0.07-0.545V-0.47Q0.18-0.49 0.235-0.545Z"/></g>
<text transform="translate(52.86,659) scale(0.9369,1)" font-size="14.53" fill="#000" xml:space="preserve">8</text>
<text transform="translate(52.7,674) scale(0.9572,1)" font-size="14.53" fill="#000" xml:space="preserve">6</text>
<text transform="translate(53.15,690) scale(0.8634,1)" font-size="14.53" fill="#000" xml:space="preserve">4</text>
<text transform="translate(52.7,705) scale(0.9572,1)" font-size="14.53" fill="#000" xml:space="preserve">2</text>
<text transform="translate(52.87,720) scale(0.9173,1)" font-size="14.53" fill="#000" xml:space="preserve">0</text>
<g fill="#00f" font-size="10"><text transform="translate(80.8,126.54) rotate(90)">0</text></g>
<g fill="#00f" font-size="10"><text transform="translate(87.83,126.54) rotate(90)">3</text></g>
<g fill="#00f" font-size="10"><text transform="translate(94.85,126.54) rotate(90)">6</text></g>
<g fill="#00f" font-size="10"><text transform="translate(101.88,126.54) rotate(90)">9</text></g>
<g fill="#00f" font-size="10"><path transform="translate(108.9,120.98) rotate(90) scale(10)" d="M0.23 0V-0.705H0.33V0ZM0.23-0.705L0.085-0.55V-0.47L0.23-0.59Z"/><text transform="translate(108.9,126.54) rotate(90)">2</text></g>
<g fill="#00f" font-size="10"><path transform="translate(115.92,120.98) rotate(90) scale(10)" d="M0.23 0V-0.705H0.33V0ZM0.23-0.705L0.085-0.55V-0.47L0.23-0.59Z"/><text transform="translate(115.92,126.54) rotate(90)">5</text></g>
<g fill="#00f" font-size="10"><path transform="translate(122.95,120.98) rotate(90) scale(10)" d="M0.23 0V-0.705H0.33V0ZM0.23-0.705L0.085-0.55V-0.47L0.23-0.59Z"/><text transform="translate(122.95,126.54) rotate(90)">8</text></g>
<g fill="#00f" font-size="10"><text transform="translate(129.98,120.98) rotate(90)">2</text><path transform="translate(129.98,126.54) rotate(90) scale(10)" d="M0.23 0V-0.705H0.33V0ZM0.23-0.705L0.085-0.55V-0.47L0.23-0.59Z"/></g>
<g fill="#00f" font-size="10"><text transform="translate(137,120.98) rotate(90)">2</text><text transform="translate(137,126.54) rotate(90)">4</text></g>
<g fill="#00f" font-size="10"><text transform="translate(144.03,120.98) rotate(90)">2</text><text transform="translate(144.03,126.54) rotate(90)">7</text></g>
<g fill="#00f" font-size="10"><text transform="translate(151.05,120.98) rotate(90)">3</text><text transform="translate(151.05,126.54) rotate(90)">0</text></g>
<g fill="#00f" font-size="10"><text transform="translate(158.08,120.98) rotate(90)">3</text><text transform="translate(158.08,126.54) rotate(90)">3</text></g>
<g fill="#00f" font-size="10"><text transform="translate(165.1,120.98) rotate(90)">3</text><text transform="translate(165.1,126.54) rotate(90)">6</text></g>
<g fill="#00f" font-size="10"><text transform="translate(172.12,120.98) rotate(90)">3</text><text transform="translate(172.12,126.54) rotate(90)">9</text></g>
<g fill="#00f" font-size="10"><text transform="translate(179.15,120.98) rotate(90)">4</text><text transform="translate(179.15,126.54) rotate(90)">2</text></g>
<g fill="#00f" font-size="10"><text transform="translate(186.18,120.98) rotate(90)">4</text><text transform="translate(186.18,126.54) rotate(90)">5</text></g>
<g fill="#00f" font-size="10"><text transform="translate(193.2,120.98) rotate(90)">4</text><text transform="translate(193.2,126.54) rotate(90)">8</text></g>
<g fill="#00f" font-size="10"><text transform="translate(200.23,120.98) rotate(90)">5</text><path transform="translate(200.23,126.54) rotate(90) scale(10)" d="M0.23 0V-0.705H0.33V0ZM0.23-0.705L0.085-0.55V-0.47L0.23-0.59Z"/></g>
<g fill="#00f" font-size="10"><text transform="translate(207.25,120.98) rotate(90)">5</text><text transform="translate(207.25,126.54) rotate(90)">4</text></g>
<g fill="#00f" font-size="10"><text transform="translate(214.28,120.98) rotate(90)">5</text><text transform="translate(214.28,126.54) rotate(90)">7</text></g>
<g fill="#00f" font-size="10"><text transform="translate(221.3,120.98) rotate(90)">6</text><text transform="translate(221.3,126.54) rotate(90)">0</text></g>
<g fill="#00f" font-size="10"><text transform="translate(228.33,120.98) rotate(90)">6</text><text transform="translate(228.33,126.54) rotate(90)">3</text></g>
<g fill="#00f" font-size="10"><text transform="translate(235.35,120.98) rotate(90)">6</text><text transform="translate(235.35,126.54) rotate(90)">6</text></g>
<g fill="#00f" font-size="10"><text transform="translate(242.38,120.98) rotate(90)">6</text><text transform="translate(242.38,126.54) rotate(90)">9</text></g>
<g fill="#00f" font-size="10"><text transform="translate(249.4,120.98) rotate(90)">7</text><text transform="translate(249.4,126.54) rotate(90)">2</text></g>
<g fill="#00f" font-size="10"><text transform="translate(256.43,120.98) rotate(90)">7</text><text transform="translate(256.43,126.54) rotate(90)">5</text></g>
<g fill="#00f" font-size="10"><text transform="translate(263.45,120.98) rotate(90)">7</text><text transform="translate(263.45,126.54) rotate(90)">8</text></g>
<g fill="#00f" font-size="10"><text transform="translate(270.48,120.98) rotate(90)">8</text><path transform="translate(270.48,126.54) rotate(90) scale(10)" d="M0.23 0V-0.705H0.33V0ZM0.23-0.705L0.085-0.55V-0.47L0.23-0.59Z"/></g>
<g fill="#00f" font-size="10"><text transform="translate(277.5,120.98) rotate(90)">8</text><text transform="translate(277.5,126.54) rotate(90)">4</text></g>
<g fill="#00f" font-size="10"><text transform="translate(284.53,120.98) rotate(90)">8</text><text transform="translate(284.53,126.54) rotate(90)">7</text></g>
<g fill="#00f" font-size="10"><text transform="translate(291.55,120.98) rotate(90)">9</text><text transform="translate(291.55,126.54) rotate(90)">0</text></g>
<g fill="#00f" font-size="10"><text transform="translate(298.57,120.98) rotate(90)">9</text><text transform="translate(298.57,126.54) rotate(90)">3</text></g>
<g fill="#00f" font-size="10"><text transform="translate(305.6,120.98) rotate(90)">9</text><text transform="translate(305.6,126.54) rotate(90)">6</text></g>
<g fill="#00f" font-size="10"><text transform="translate(312.63,120.98) rotate(90)">9</text><text transform="translate(312.63,126.54) rotate(90)">9</text></g>
<g fill="#00f" font-size="10"><path transform="translate(319.65,117.51) rotate(90) scale(10)" d="M0.23 0V-0.705H0.33V0ZM0.23-0.705L0.085-0.55V-0.47L0.23-0.59Z"/><text transform="translate(319.65,123.08) rotate(90)">0</text><text transform="translate(319.65,128.64) rotate(90)">2</text></g>
<g fill="#00f" font-size="10"><path transform="translate(326.68,117.51) rotate(90) scale(10)" d="M0.23 0V-0.705H0.33V0ZM0.23-0.705L0.085-0.55V-0.47L0.23-0.59Z"/><text transform="translate(326.68,123.08) rotate(90)">0</text><text transform="translate(326.68,128.64) rotate(90)">5</text></g>
<g fill="#00f" font-size="10"><path transform="translate(333.7,117.51) rotate(90) scale(10)" d="M0.23 0V-0.705H0.33V0ZM0.23-0.705L0.085-0.55V-0.47L0.23-0.59Z"/><text transform="translate(333.7,123.08) rotate(90)">0</text><text transform="translate(333.7,128.64) rotate(90)">8</text></g>
<g fill="#00f" font-size="10"><path transform="translate(340.73,117.51) rotate(90) scale(10)" d="M0.23 0V-0.705H0.33V0ZM0.23-0.705L0.085-0.55V-0.47L0.23-0.59Z"/><path transform="translate(340.73,123.08) rotate(90) scale(10)" d="M0.23 0V-0.705H0.33V0ZM0.23-0.705L0.085-0.55V-0.47L0.23-0.59Z"/><path transform="translate(340.73,128.64) rotate(90) scale(10)" d="M0.23 0V-0.705H0.33V0ZM0.23-0.705L0.085-0.55V-0.47L0.23-0.59Z"/></g>
<g fill="#00f" font-size="10"><path transform="translate(347.75,117.51) rotate(90) scale(10)" d="M0.23 0V-0.705H0.33V0ZM0.23-0.705L0.085-0.55V-0.47L0.23-0.59Z"/><path transform="translate(347.75,123.08) rotate(90) scale(10)" d="M0.23 0V-0.705H0.33V0ZM0.23-0.705L0.085-0.55V-0.47L0.23-0.59Z"/><text transform="translate(347.75,128.64) rotate(90)">4</text></g>
<g fill="#00f" font-size="10"><path transform="translate(354.78,117.51) rotate(90) scale(10)" d="M0.23 0V-0.705H0.33V0ZM0.23-0.705L0.085-0.55V-0.47L0.23-0.59Z"/><path transform="translate(354.78,123.08) rotate(90) scale(10)" d="M0.23 0V-0.705H0.33V0ZM0.23-0.705L0.085-0.55V-0.47L0.23-0.59Z"/><text transform="translate(354.78,128.64) rotate(90)">7</text></g>
<g fill="#00f" font-size="10"><path transform="translate(361.8,117.51) rotate(90) scale(10)" d="M0.23 0V-0.705H0.33V0ZM0.23-0.705L0.085-0.55V-0.47L0.23-0.59Z"/><text transform="translate(361.8,123.08) rotate(90)">2</text><text transform="translate(361.8,128.64) rotate(90)">0</text></g>
<g fill="#00f" font-size="10"><path transform="translate(368.83,117.51) rotate(90) scale(10)" d="M0.23 0V-0.705H0.33V0ZM0.23-0.705L0.085-0.55V-0.47L0.23-0.59Z"/><text transform="translate(368.83,123.08) rotate(90)">2</text><text transform="translate(368.83,128.64) rotate(90)">3</text></g>
<g fill="#00f" font-size="10"><path transform="translate(375.85,117.51) rotate(90) scale(10)" d="M0.23 0V-0.705H0.33V0ZM0.23-0.705L0.085-0.55V-0.47L0.23-0.59Z"/><text transform="translate(375.85,123.08) rotate(90)">2</text><text transform="translate(375.85,128.64) rotate(90)">6</text></g>
<g fill="#00f" font-size="10"><path transform="translate(382.88,117.51) rotate(90) scale(10)" d="M0.23 0V-0.705H0.33V0ZM0.23-0.705L0.085-0.55V-0.47L0.23-0.59Z"/><text transform="translate(382.88,123.08) rotate(90)">2</text><text transform="translate(382.88,128.64) rotate(90)">9</text></g>
<g fill="#00f" font-size="10"><path transform="translate(389.9,117.51) rotate(90) scale(10)" d="M0.23 0V-0.705H0.33V0ZM0.23-0.705L0.085-0.55V-0.47L0.23-0.59Z"/><text transform="translate(389.9,123.08) rotate(90)">3</text><text transform="translate(389.9,128.64) rotate(90)">2</text></g>
<g fill="#00f" font-size="10"><path transform="translate(396.93,117.51) rotate(90) scale(10)" d="M0.23 0V-0.705H0.33V0ZM0.23-0.705L0.085-0.55V-0.47L0.23-0.59Z"/><text transform="translate(396.93,123.08) rotate(90)">3</text><text transform="translate(396.93,128.64) rotate(90)">5</text></g>
<g fill="#00f" font-size="10"><path transform="translate(403.95,117.51) rotate(90) scale(10)" d="M0.23 0V-0.705H0.33V0ZM0.23-0.705L0.085-0.55V-0.47L0.23-0.59Z"/><text transform="translate(403.95,123.08) rotate(90)">3</text><text transform="translate(403.95,128.64) rotate(90)">8</text></g>
<g fill="#00f" font-size="10"><path transform="translate(410.98,117.51) rotate(90) scale(10)" d="M0.23 0V-0.705H0.33V0ZM0.23-0.705L0.085-0.55V-0.47L0.23-0.59Z"/><text transform="translate(410.98,123.08) rotate(90)">4</text><path transform="translate(410.98,128.64) rotate(90) scale(10)" d="M0.23 0V-0.705H0.33V0ZM0.23-0.705L0.085-0.55V-0.47L0.23-0.59Z"/></g>
<g fill="#00f" font-size="10"><path transform="translate(418,117.51) rotate(90) scale(10)" d="M0.23 0V-0.705H0.33V0ZM0.23-0.705L0.085-0.55V-0.47L0.23-0.59Z"/><text transform="translate(418,123.08) rotate(90)">4</text><text transform="translate(418,128.64) rotate(90)">4</text></g>
<g fill="#00f" font-size="10"><path transform="translate(425.03,117.51) rotate(90) scale(10)" d="M0.23 0V-0.705H0.33V0ZM0.23-0.705L0.085-0.55V-0.47L0.23-0.59Z"/><text transform="translate(425.03,123.08) rotate(90)">4</text><text transform="translate(425.03,128.64) rotate(90)">7</text></g>
<g fill="#00f" font-size="10"><path transform="translate(432.05,117.51) rotate(90) scale(10)" d="M0.23 0V-0.705H0.33V0ZM0.23-0.705L0.085-0.55V-0.47L0.23-0.59Z"/><text transform="translate(432.05,123.08) rotate(90)">5</text><text transform="translate(432.05,128.64) rotate(90)">0</text></g>
<g fill="#00f" font-size="10"><path transform="translate(439.08,117.51) rotate(90) scale(10)" d="M0.23 0V-0.705H0.33V0ZM0.23-0.705L0.085-0.55V-0.47L0.23-0.59Z"/><text transform="translate(439.08,123.08) rotate(90)">5</text><text transform="translate(439.08,128.64) rotate(90)">3</text></g>
<g fill="#00f" font-size="10"><path transform="translate(446.1,117.51) rotate(90) scale(10)" d="M0.23 0V-0.705H0.33V0ZM0.23-0.705L0.085-0.55V-0.47L0.23-0.59Z"/><text transform="translate(446.1,123.08) rotate(90)">5</text><text transform="translate(446.1,128.64) rotate(90)">6</text></g>
<g fill="#00f" font-size="10"><path transform="translate(453.13,117.51) rotate(90) scale(10)" d="M0.23 0V-0.705H0.33V0ZM0.23-0.705L0.085-0.55V-0.47L0.23-0.59Z"/><text transform="translate(453.13,123.08) rotate(90)">5</text><text transform="translate(453.13,128.64) rotate(90)">9</text></g>
<g fill="#00f" font-size="10"><path transform="translate(460.15,117.51) rotate(90) scale(10)" d="M0.23 0V-0.705H0.33V0ZM0.23-0.705L0.085-0.55V-0.47L0.23-0.59Z"/><text transform="translate(460.15,123.08) rotate(90)">6</text><text transform="translate(460.15,128.64) rotate(90)">2</text></g>
<g fill="#00f" font-size="10"><path transform="translate(467.18,117.51) rotate(90) scale(10)" d="M0.23 0V-0.705H0.33V0ZM0.23-0.705L0.085-0.55V-0.47L0.23-0.59Z"/><text transform="translate(467.18,123.08) rotate(90)">6</text><text transform="translate(467.18,128.64) rotate(90)">5</text></g>
<g fill="#00f" font-size="10"><path transform="translate(474.2,117.51) rotate(90) scale(10)" d="M0.23 0V-0.705H0.33V0ZM0.23-0.705L0.085-0.55V-0.47L0.23-0.59Z"/><text transform="translate(474.2,123.08) rotate(90)">6</text><text transform="translate(474.2,128.64) rotate(90)">8</text></g>
<g fill="#00f" font-size="10"><path transform="translate(481.23,117.51) rotate(90) scale(10)" d="M0.23 0V-0.705H0.33V0ZM0.23-0.705L0.085-0.55V-0.47L0.23-0.59Z"/><text transform="translate(481.23,123.08) rotate(90)">7</text><path transform="translate(481.23,128.64) rotate(90) scale(10)" d="M0.23 0V-0.705H0.33V0ZM0.23-0.705L0.085-0.55V-0.47L0.23-0.59Z"/></g>
<g fill="#00f" font-size="10"><path transform="translate(488.25,117.51) rotate(90) scale(10)" d="M0.23 0V-0.705H0.33V0ZM0.23-0.705L0.085-0.55V-0.47L0.23-0.59Z"/><text transform="translate(488.25,123.08) rotate(90)">7</text><text transform="translate(488.25,128.64) rotate(90)">4</text></g>
<g fill="#00f" font-size="10"><path transform="translate(495.28,117.51) rotate(90) scale(10)" d="M0.23 0V-0.705H0.33V0ZM0.23-0.705L0.085-0.55V-0.47L0.23-0.59Z"/><text transform="translate(495.28,123.08) rotate(90)">7</text><text transform="translate(495.28,128.64) rotate(90)">7</text></g>
<g fill="#00f" font-size="10"><path transform="translate(502.3,117.51) rotate(90) scale(10)" d="M0.23 0V-0.705H0.33V0ZM0.23-0.705L0.085-0.55V-0.47L0.23-0.59Z"/><text transform="translate(502.3,123.08) rotate(90)">8</text><text transform="translate(502.3,128.64) rotate(90)">0</text></g>
<g fill="#00f" font-size="10"><path transform="translate(509.33,117.51) rotate(90) scale(10)" d="M0.23 0V-0.705H0.33V0ZM0.23-0.705L0.085-0.55V-0.47L0.23-0.59Z"/><text transform="translate(509.33,123.08) rotate(90)">8</text><text transform="translate(509.33,128.64) rotate(90)">3</text></g>
<g fill="#00f" font-size="10"><path transform="translate(516.35,117.51) rotate(90) scale(10)" d="M0.23 0V-0.705H0.33V0ZM0.23-0.705L0.085-0.55V-0.47L0.23-0.59Z"/><text transform="translate(516.35,123.08) rotate(90)">8</text><text transform="translate(516.35,128.64) rotate(90)">6</text></g>
<g fill="#00f" font-size="10"><path transform="translate(523.38,117.51) rotate(90) scale(10)" d="M0.23 0V-0.705H0.33V0ZM0.23-0.705L0.085-0.55V-0.47L0.23-0.59Z"/><text transform="translate(523.38,123.08) rotate(90)">8</text><text transform="translate(523.38,128.64) rotate(90)">9</text></g>
<g fill="#00f" font-size="10"><path transform="translate(530.4,117.51) rotate(90) scale(10)" d="M0.23 0V-0.705H0.33V0ZM0.23-0.705L0.085-0.55V-0.47L0.23-0.59Z"/><text transform="translate(530.4,123.08) rotate(90)">9</text><text transform="translate(530.4,128.64) rotate(90)">2</text></g>
<g fill="#00f" font-size="10"><path transform="translate(537.42,117.51) rotate(90) scale(10)" d="M0.23 0V-0.705H0.33V0ZM0.23-0.705L0.085-0.55V-0.47L0.23-0.59Z"/><text transform="translate(537.42,123.08) rotate(90)">9</text><text transform="translate(537.42,128.64) rotate(90)">5</text></g>
<g fill="#00f" font-size="10"><path transform="translate(544.45,117.51) rotate(90) scale(10)" d="M0.23 0V-0.705H0.33V0ZM0.23-0.705L0.085-0.55V-0.47L0.23-0.59Z"/><text transform="translate(544.45,123.08) rotate(90)">9</text><text transform="translate(544.45,128.64) rotate(90)">8</text></g>
<g fill="#00f" font-size="10"><text transform="translate(551.47,117.51) rotate(90)">2</text><text transform="translate(551.47,123.08) rotate(90)">0</text><path transform="translate(551.47,128.64) rotate(90) scale(10)" d="M0.23 0V-0.705H0.33V0ZM0.23-0.705L0.085-0.55V-0.47L0.23-0.59Z"/></g>
<g fill="#00f" font-size="10"><text transform="translate(558.5,117.51) rotate(90)">2</text><text transform="translate(558.5,123.08) rotate(90)">0</text><text transform="translate(558.5,128.64) rotate(90)">4</text></g>
<g fill="#00f" font-size="10"><text transform="translate(565.52,117.51) rotate(90)">2</text><text transform="translate(565.52,123.08) rotate(90)">0</text><text transform="translate(565.52,128.64) rotate(90)">7</text></g>
<g fill="#00f" font-size="10"><text transform="translate(572.55,117.51) rotate(90)">2</text><path transform="translate(572.55,123.08) rotate(90) scale(10)" d="M0.23 0V-0.705H0.33V0ZM0.23-0.705L0.085-0.55V-0.47L0.23-0.59Z"/><text transform="translate(572.55,128.64) rotate(90)">0</text></g>
<g fill="#00f" font-size="10"><text transform="translate(579.58,117.51) rotate(90)">2</text><path transform="translate(579.58,123.08) rotate(90) scale(10)" d="M0.23 0V-0.705H0.33V0ZM0.23-0.705L0.085-0.55V-0.47L0.23-0.59Z"/><text transform="translate(579.58,128.64) rotate(90)">3</text></g>
<g fill="#00f" font-size="10"><text transform="translate(586.6,117.51) rotate(90)">2</text><path transform="translate(586.6,123.08) rotate(90) scale(10)" d="M0.23 0V-0.705H0.33V0ZM0.23-0.705L0.085-0.55V-0.47L0.23-0.59Z"/><text transform="translate(586.6,128.64) rotate(90)">6</text></g>
<g fill="#00f" font-size="10"><text transform="translate(593.62,117.51) rotate(90)">2</text><path transform="translate(593.62,123.08) rotate(90) scale(10)" d="M0.23 0V-0.705H0.33V0ZM0.23-0.705L0.085-0.55V-0.47L0.23-0.59Z"/><text transform="translate(593.62,128.64) rotate(90)">9</text></g>
<g fill="#00f" font-size="10"><text transform="translate(600.65,117.51) rotate(90)">2</text><text transform="translate(600.65,123.08) rotate(90)">2</text><text transform="translate(600.65,128.64) rotate(90)">2</text></g>
<g fill="#00f" font-size="10"><text transform="translate(607.67,117.51) rotate(90)">2</text><text transform="translate(607.67,123.08) rotate(90)">2</text><text transform="translate(607.67,128.64) rotate(90)">5</text></g>
<g fill="#00f" font-size="10"><text transform="translate(614.7,117.51) rotate(90)">2</text><text transform="translate(614.7,123.08) rotate(90)">2</text><text transform="translate(614.7,128.64) rotate(90)">8</text></g>
<g fill="#00f" font-size="10"><text transform="translate(621.73,117.51) rotate(90)">2</text><text transform="translate(621.73,123.08) rotate(90)">3</text><path transform="translate(621.73,128.64) rotate(90) scale(10)" d="M0.23 0V-0.705H0.33V0ZM0.23-0.705L0.085-0.55V-0.47L0.23-0.59Z"/></g>
<g fill="#00f" font-size="10"><text transform="translate(628.75,117.51) rotate(90)">2</text><text transform="translate(628.75,123.08) rotate(90)">3</text><text transform="translate(628.75,128.64) rotate(90)">4</text></g>
<g fill="#00f" font-size="10"><text transform="translate(635.77,117.51) rotate(90)">2</text><text transform="translate(635.77,123.08) rotate(90)">3</text><text transform="translate(635.77,128.64) rotate(90)">7</text></g>
<g fill="#00f" font-size="10"><text transform="translate(642.8,117.51) rotate(90)">2</text><text transform="translate(642.8,123.08) rotate(90)">4</text><text transform="translate(642.8,128.64) rotate(90)">0</text></g>
<g fill="#00f" font-size="10"><text transform="translate(77,719.6) rotate(90)">0</text><text transform="translate(77,725.16) rotate(90)">0</text><text transform="translate(77,730.72) rotate(90) scale(1.14,1)">Z</text></g>
<g fill="#00f" font-size="10"><text transform="translate(84.03,719.6) rotate(90)">0</text><text transform="translate(84.03,725.16) rotate(90)">3</text><text transform="translate(84.03,730.72) rotate(90) scale(1.14,1)">Z</text></g>
<g fill="#00f" font-size="10"><text transform="translate(91.05,719.6) rotate(90)">0</text><text transform="translate(91.05,725.16) rotate(90)">6</text><text transform="translate(91.05,730.72) rotate(90) scale(1.14,1)">Z</text></g>
<g fill="#00f" font-size="10"><text transform="translate(98.08,719.6) rotate(90)">0</text><text transform="translate(98.08,725.16) rotate(90)">9</text><text transform="translate(98.08,730.72) rotate(90) scale(1.14,1)">Z</text></g>
<g fill="#00f" font-size="10"><path transform="translate(105.1,719.6) rotate(90) scale(10)" d="M0.23 0V-0.705H0.33V0ZM0.23-0.705L0.085-0.55V-0.47L0.23-0.59Z"/><text transform="translate(105.1,725.16) rotate(90)">2</text><text transform="translate(105.1,730.72) rotate(90) scale(1.14,1)">Z</text></g>
<g fill="#00f" font-size="10"><path transform="translate(112.12,719.6) rotate(90) scale(10)" d="M0.23 0V-0.705H0.33V0ZM0.23-0.705L0.085-0.55V-0.47L0.23-0.59Z"/><text transform="translate(112.12,725.16) rotate(90)">5</text><text transform="translate(112.12,730.72) rotate(90) scale(1.14,1)">Z</text></g>
<g fill="#00f" font-size="10"><path transform="translate(119.15,719.6) rotate(90) scale(10)" d="M0.23 0V-0.705H0.33V0ZM0.23-0.705L0.085-0.55V-0.47L0.23-0.59Z"/><text transform="translate(119.15,725.16) rotate(90)">8</text><text transform="translate(119.15,730.72) rotate(90) scale(1.14,1)">Z</text></g>
<g fill="#00f" font-size="10"><text transform="translate(126.18,719.6) rotate(90)">2</text><path transform="translate(126.18,725.16) rotate(90) scale(10)" d="M0.23 0V-0.705H0.33V0ZM0.23-0.705L0.085-0.55V-0.47L0.23-0.59Z"/><text transform="translate(126.18,730.72) rotate(90) scale(1.14,1)">Z</text></g>
<g fill="#00f" font-size="10"><text transform="translate(133.2,719.6) rotate(90)">0</text><text transform="translate(133.2,725.16) rotate(90)">0</text><text transform="translate(133.2,730.72) rotate(90) scale(1.14,1)">Z</text></g>
<g fill="#00f" font-size="10"><text transform="translate(140.22,719.6) rotate(90)">0</text><text transform="translate(140.22,725.16) rotate(90)">3</text><text transform="translate(140.22,730.72) rotate(90) scale(1.14,1)">Z</text></g>
<g fill="#00f" font-size="10"><text transform="translate(147.25,719.6) rotate(90)">0</text><text transform="translate(147.25,725.16) rotate(90)">6</text><text transform="translate(147.25,730.72) rotate(90) scale(1.14,1)">Z</text></g>
<g fill="#00f" font-size="10"><text transform="translate(154.28,719.6) rotate(90)">0</text><text transform="translate(154.28,725.16) rotate(90)">9</text><text transform="translate(154.28,730.72) rotate(90) scale(1.14,1)">Z</text></g>
<g fill="#00f" font-size="10"><path transform="translate(161.3,719.6) rotate(90) scale(10)" d="M0.23 0V-0.705H0.33V0ZM0.23-0.705L0.085-0.55V-0.47L0.23-0.59Z"/><text transform="translate(161.3,725.16) rotate(90)">2</text><text transform="translate(161.3,730.72) rotate(90) scale(1.14,1)">Z</text></g>
<g fill="#00f" font-size="10"><path transform="translate(168.32,719.6) rotate(90) scale(10)" d="M0.23 0V-0.705H0.33V0ZM0.23-0.705L0.085-0.55V-0.47L0.23-0.59Z"/><text transform="translate(168.32,725.16) rotate(90)">5</text><text transform="translate(168.32,730.72) rotate(90) scale(1.14,1)">Z</text></g>
<g fill="#00f" font-size="10"><path transform="translate(175.35,719.6) rotate(90) scale(10)" d="M0.23 0V-0.705H0.33V0ZM0.23-0.705L0.085-0.55V-0.47L0.23-0.59Z"/><text transform="translate(175.35,725.16) rotate(90)">8</text><text transform="translate(175.35,730.72) rotate(90) scale(1.14,1)">Z</text></g>
<g fill="#00f" font-size="10"><text transform="translate(182.38,719.6) rotate(90)">2</text><path transform="translate(182.38,725.16) rotate(90) scale(10)" d="M0.23 0V-0.705H0.33V0ZM0.23-0.705L0.085-0.55V-0.47L0.23-0.59Z"/><text transform="translate(182.38,730.72) rotate(90) scale(1.14,1)">Z</text></g>
<g fill="#00f" font-size="10"><text transform="translate(189.4,719.6) rotate(90)">0</text><text transform="translate(189.4,725.16) rotate(90)">0</text><text transform="translate(189.4,730.72) rotate(90) scale(1.14,1)">Z</text></g>
<g fill="#00f" font-size="10"><text transform="translate(196.43,719.6) rotate(90)">0</text><text transform="translate(196.43,725.16) rotate(90)">3</text><text transform="translate(196.43,730.72) rotate(90) scale(1.14,1)">Z</text></g>
<g fill="#00f" font-size="10"><text transform="translate(203.45,719.6) rotate(90)">0</text><text transform="translate(203.45,725.16) rotate(90)">6</text><text transform="translate(203.45,730.72) rotate(90) scale(1.14,1)">Z</text></g>
<g fill="#00f" font-size="10"><text transform="translate(210.47,719.6) rotate(90)">0</text><text transform="translate(210.47,725.16) rotate(90)">9</text><text transform="translate(210.47,730.72) rotate(90) scale(1.14,1)">Z</text></g>
<g fill="#00f" font-size="10"><path transform="translate(217.5,719.6) rotate(90) scale(10)" d="M0.23 0V-0.705H0.33V0ZM0.23-0.705L0.085-0.55V-0.47L0.23-0.59Z"/><text transform="translate(217.5,725.16) rotate(90)">2</text><text transform="translate(217.5,730.72) rotate(90) scale(1.14,1)">Z</text></g>
<g fill="#00f" font-size="10"><path transform="translate(224.53,719.6) rotate(90) scale(10)" d="M0.23 0V-0.705H0.33V0ZM0.23-0.705L0.085-0.55V-0.47L0.23-0.59Z"/><text transform="translate(224.53,725.16) rotate(90)">5</text><text transform="translate(224.53,730.72) rotate(90) scale(1.14,1)">Z</text></g>
<g fill="#00f" font-size="10"><path transform="translate(231.55,719.6) rotate(90) scale(10)" d="M0.23 0V-0.705H0.33V0ZM0.23-0.705L0.085-0.55V-0.47L0.23-0.59Z"/><text transform="translate(231.55,725.16) rotate(90)">8</text><text transform="translate(231.55,730.72) rotate(90) scale(1.14,1)">Z</text></g>
<g fill="#00f" font-size="10"><text transform="translate(238.58,719.6) rotate(90)">2</text><path transform="translate(238.58,725.16) rotate(90) scale(10)" d="M0.23 0V-0.705H0.33V0ZM0.23-0.705L0.085-0.55V-0.47L0.23-0.59Z"/><text transform="translate(238.58,730.72) rotate(90) scale(1.14,1)">Z</text></g>
<g fill="#00f" font-size="10"><text transform="translate(245.6,719.6) rotate(90)">0</text><text transform="translate(245.6,725.16) rotate(90)">0</text><text transform="translate(245.6,730.72) rotate(90) scale(1.14,1)">Z</text></g>
<g fill="#00f" font-size="10"><text transform="translate(252.62,719.6) rotate(90)">0</text><text transform="translate(252.62,725.16) rotate(90)">3</text><text transform="translate(252.62,730.72) rotate(90) scale(1.14,1)">Z</text></g>
<g fill="#00f" font-size="10"><text transform="translate(259.65,719.6) rotate(90)">0</text><text transform="translate(259.65,725.16) rotate(90)">6</text><text transform="translate(259.65,730.72) rotate(90) scale(1.14,1)">Z</text></g>
<g fill="#00f" font-size="10"><text transform="translate(266.68,719.6) rotate(90)">0</text><text transform="translate(266.68,725.16) rotate(90)">9</text><text transform="translate(266.68,730.72) rotate(90) scale(1.14,1)">Z</text></g>
<g fill="#00f" font-size="10"><path transform="translate(273.7,719.6) rotate(90) scale(10)" d="M0.23 0V-0.705H0.33V0ZM0.23-0.705L0.085-0.55V-0.47L0.23-0.59Z"/><text transform="translate(273.7,725.16) rotate(90)">2</text><text transform="translate(273.7,730.72) rotate(90) scale(1.14,1)">Z</text></g>
<g fill="#00f" font-size="10"><path transform="translate(280.73,719.6) rotate(90) scale(10)" d="M0.23 0V-0.705H0.33V0ZM0.23-0.705L0.085-0.55V-0.47L0.23-0.59Z"/><text transform="translate(280.73,725.16) rotate(90)">5</text><text transform="translate(280.73,730.72) rotate(90) scale(1.14,1)">Z</text></g>
<g fill="#00f" font-size="10"><path transform="translate(287.75,719.6) rotate(90) scale(10)" d="M0.23 0V-0.705H0.33V0ZM0.23-0.705L0.085-0.55V-0.47L0.23-0.59Z"/><text transform="translate(287.75,725.16) rotate(90)">8</text><text transform="translate(287.75,730.72) rotate(90) scale(1.14,1)">Z</text></g>
<g fill="#00f" font-size="10"><text transform="translate(294.77,719.6) rotate(90)">2</text><path transform="translate(294.77,725.16) rotate(90) scale(10)" d="M0.23 0V-0.705H0.33V0ZM0.23-0.705L0.085-0.55V-0.47L0.23-0.59Z"/><text transform="translate(294.77,730.72) rotate(90) scale(1.14,1)">Z</text></g>
<g fill="#00f" font-size="10"><text transform="translate(301.8,719.6) rotate(90)">0</text><text transform="translate(301.8,725.16) rotate(90)">0</text><text transform="translate(301.8,730.72) rotate(90) scale(1.14,1)">Z</text></g>
<g fill="#00f" font-size="10"><text transform="translate(308.83,719.6) rotate(90)">0</text><text transform="translate(308.83,725.16) rotate(90)">3</text><text transform="translate(308.83,730.72) rotate(90) scale(1.14,1)">Z</text></g>
<g fill="#00f" font-size="10"><text transform="translate(315.85,719.6) rotate(90)">0</text><text transform="translate(315.85,725.16) rotate(90)">6</text><text transform="translate(315.85,730.72) rotate(90) scale(1.14,1)">Z</text></g>
<g fill="#00f" font-size="10"><text transform="translate(322.88,719.6) rotate(90)">0</text><text transform="translate(322.88,725.16) rotate(90)">9</text><text transform="translate(322.88,730.72) rotate(90) scale(1.14,1)">Z</text></g>
<g fill="#00f" font-size="10"><path transform="translate(329.9,719.6) rotate(90) scale(10)" d="M0.23 0V-0.705H0.33V0ZM0.23-0.705L0.085-0.55V-0.47L0.23-0.59Z"/><text transform="translate(329.9,725.16) rotate(90)">2</text><text transform="translate(329.9,730.72) rotate(90) scale(1.14,1)">Z</text></g>
<g fill="#00f" font-size="10"><path transform="translate(336.93,719.6) rotate(90) scale(10)" d="M0.23 0V-0.705H0.33V0ZM0.23-0.705L0.085-0.55V-0.47L0.23-0.59Z"/><text transform="translate(336.93,725.16) rotate(90)">5</text><text transform="translate(336.93,730.72) rotate(90) scale(1.14,1)">Z</text></g>
<g fill="#00f" font-size="10"><path transform="translate(343.95,719.6) rotate(90) scale(10)" d="M0.23 0V-0.705H0.33V0ZM0.23-0.705L0.085-0.55V-0.47L0.23-0.59Z"/><text transform="translate(343.95,725.16) rotate(90)">8</text><text transform="translate(343.95,730.72) rotate(90) scale(1.14,1)">Z</text></g>
<g fill="#00f" font-size="10"><text transform="translate(350.98,719.6) rotate(90)">2</text><path transform="translate(350.98,725.16) rotate(90) scale(10)" d="M0.23 0V-0.705H0.33V0ZM0.23-0.705L0.085-0.55V-0.47L0.23-0.59Z"/><text transform="translate(350.98,730.72) rotate(90) scale(1.14,1)">Z</text></g>
<g fill="#00f" font-size="10"><text transform="translate(358,719.6) rotate(90)">0</text><text transform="translate(358,725.16) rotate(90)">0</text><text transform="translate(358,730.72) rotate(90) scale(1.14,1)">Z</text></g>
<g fill="#00f" font-size="10"><text transform="translate(365.03,719.6) rotate(90)">0</text><text transform="translate(365.03,725.16) rotate(90)">3</text><text transform="translate(365.03,730.72) rotate(90) scale(1.14,1)">Z</text></g>
<g fill="#00f" font-size="10"><text transform="translate(372.05,719.6) rotate(90)">0</text><text transform="translate(372.05,725.16) rotate(90)">6</text><text transform="translate(372.05,730.72) rotate(90) scale(1.14,1)">Z</text></g>
<g fill="#00f" font-size="10"><text transform="translate(379.07,719.6) rotate(90)">0</text><text transform="translate(379.07,725.16) rotate(90)">9</text><text transform="translate(379.07,730.72) rotate(90) scale(1.14,1)">Z</text></g>
<g fill="#00f" font-size="10"><path transform="translate(386.1,719.6) rotate(90) scale(10)" d="M0.23 0V-0.705H0.33V0ZM0.23-0.705L0.085-0.55V-0.47L0.23-0.59Z"/><text transform="translate(386.1,725.16) rotate(90)">2</text><text transform="translate(386.1,730.72) rotate(90) scale(1.14,1)">Z</text></g>
<g fill="#00f" font-size="10"><path transform="translate(393.12,719.6) rotate(90) scale(10)" d="M0.23 0V-0.705H0.33V0ZM0.23-0.705L0.085-0.55V-0.47L0.23-0.59Z"/><text transform="translate(393.12,725.16) rotate(90)">5</text><text transform="translate(393.12,730.72) rotate(90) scale(1.14,1)">Z</text></g>
<g fill="#00f" font-size="10"><path transform="translate(400.15,719.6) rotate(90) scale(10)" d="M0.23 0V-0.705H0.33V0ZM0.23-0.705L0.085-0.55V-0.47L0.23-0.59Z"/><text transform="translate(400.15,725.16) rotate(90)">8</text><text transform="translate(400.15,730.72) rotate(90) scale(1.14,1)">Z</text></g>
<g fill="#00f" font-size="10"><text transform="translate(407.18,719.6) rotate(90)">2</text><path transform="translate(407.18,725.16) rotate(90) scale(10)" d="M0.23 0V-0.705H0.33V0ZM0.23-0.705L0.085-0.55V-0.47L0.23-0.59Z"/><text transform="translate(407.18,730.72) rotate(90) scale(1.14,1)">Z</text></g>
<g fill="#00f" font-size="10"><text transform="translate(414.2,719.6) rotate(90)">0</text><text transform="translate(414.2,725.16) rotate(90)">0</text><text transform="translate(414.2,730.72) rotate(90) scale(1.14,1)">Z</text></g>
<g fill="#00f" font-size="10"><text transform="translate(421.23,719.6) rotate(90)">0</text><text transform="translate(421.23,725.16) rotate(90)">3</text><text transform="translate(421.23,730.72) rotate(90) scale(1.14,1)">Z</text></g>
<g fill="#00f" font-size="10"><text transform="translate(428.25,719.6) rotate(90)">0</text><text transform="translate(428.25,725.16) rotate(90)">6</text><text transform="translate(428.25,730.72) rotate(90) scale(1.14,1)">Z</text></g>
<g fill="#00f" font-size="10"><text transform="translate(435.28,719.6) rotate(90)">0</text><text transform="translate(435.28,725.16) rotate(90)">9</text><text transform="translate(435.28,730.72) rotate(90) scale(1.14,1)">Z</text></g>
<g fill="#00f" font-size="10"><path transform="translate(442.3,719.6) rotate(90) scale(10)" d="M0.23 0V-0.705H0.33V0ZM0.23-0.705L0.085-0.55V-0.47L0.23-0.59Z"/><text transform="translate(442.3,725.16) rotate(90)">2</text><text transform="translate(442.3,730.72) rotate(90) scale(1.14,1)">Z</text></g>
<g fill="#00f" font-size="10"><path transform="translate(449.33,719.6) rotate(90) scale(10)" d="M0.23 0V-0.705H0.33V0ZM0.23-0.705L0.085-0.55V-0.47L0.23-0.59Z"/><text transform="translate(449.33,725.16) rotate(90)">5</text><text transform="translate(449.33,730.72) rotate(90) scale(1.14,1)">Z</text></g>
<g fill="#00f" font-size="10"><path transform="translate(456.35,719.6) rotate(90) scale(10)" d="M0.23 0V-0.705H0.33V0ZM0.23-0.705L0.085-0.55V-0.47L0.23-0.59Z"/><text transform="translate(456.35,725.16) rotate(90)">8</text><text transform="translate(456.35,730.72) rotate(90) scale(1.14,1)">Z</text></g>
<g fill="#00f" font-size="10"><text transform="translate(463.38,719.6) rotate(90)">2</text><path transform="translate(463.38,725.16) rotate(90) scale(10)" d="M0.23 0V-0.705H0.33V0ZM0.23-0.705L0.085-0.55V-0.47L0.23-0.59Z"/><text transform="translate(463.38,730.72) rotate(90) scale(1.14,1)">Z</text></g>
<g fill="#00f" font-size="10"><text transform="translate(470.4,719.6) rotate(90)">0</text><text transform="translate(470.4,725.16) rotate(90)">0</text><text transform="translate(470.4,730.72) rotate(90) scale(1.14,1)">Z</text></g>
<g fill="#00f" font-size="10"><text transform="translate(477.43,719.6) rotate(90)">0</text><text transform="translate(477.43,725.16) rotate(90)">3</text><text transform="translate(477.43,730.72) rotate(90) scale(1.14,1)">Z</text></g>
<g fill="#00f" font-size="10"><text transform="translate(484.45,719.6) rotate(90)">0</text><text transform="translate(484.45,725.16) rotate(90)">6</text><text transform="translate(484.45,730.72) rotate(90) scale(1.14,1)">Z</text></g>
<g fill="#00f" font-size="10"><text transform="translate(491.48,719.6) rotate(90)">0</text><text transform="translate(491.48,725.16) rotate(90)">9</text><text transform="translate(491.48,730.72) rotate(90) scale(1.14,1)">Z</text></g>
<g fill="#00f" font-size="10"><path transform="translate(498.5,719.6) rotate(90) scale(10)" d="M0.23 0V-0.705H0.33V0ZM0.23-0.705L0.085-0.55V-0.47L0.23-0.59Z"/><text transform="translate(498.5,725.16) rotate(90)">2</text><text transform="translate(498.5,730.72) rotate(90) scale(1.14,1)">Z</text></g>
<g fill="#00f" font-size="10"><path transform="translate(505.53,719.6) rotate(90) scale(10)" d="M0.23 0V-0.705H0.33V0ZM0.23-0.705L0.085-0.55V-0.47L0.23-0.59Z"/><text transform="translate(505.53,725.16) rotate(90)">5</text><text transform="translate(505.53,730.72) rotate(90) scale(1.14,1)">Z</text></g>
<g fill="#00f" font-size="10"><path transform="translate(512.55,719.6) rotate(90) scale(10)" d="M0.23 0V-0.705H0.33V0ZM0.23-0.705L0.085-0.55V-0.47L0.23-0.59Z"/><text transform="translate(512.55,725.16) rotate(90)">8</text><text transform="translate(512.55,730.72) rotate(90) scale(1.14,1)">Z</text></g>
<g fill="#00f" font-size="10"><text transform="translate(519.58,719.6) rotate(90)">2</text><path transform="translate(519.58,725.16) rotate(90) scale(10)" d="M0.23 0V-0.705H0.33V0ZM0.23-0.705L0.085-0.55V-0.47L0.23-0.59Z"/><text transform="translate(519.58,730.72) rotate(90) scale(1.14,1)">Z</text></g>
<g fill="#00f" font-size="10"><text transform="translate(526.6,719.6) rotate(90)">0</text><text transform="translate(526.6,725.16) rotate(90)">0</text><text transform="translate(526.6,730.72) rotate(90) scale(1.14,1)">Z</text></g>
<g fill="#00f" font-size="10"><text transform="translate(533.62,719.6) rotate(90)">0</text><text transform="translate(533.62,725.16) rotate(90)">3</text><text transform="translate(533.62,730.72) rotate(90) scale(1.14,1)">Z</text></g>
<g fill="#00f" font-size="10"><text transform="translate(540.65,719.6) rotate(90)">0</text><text transform="translate(540.65,725.16) rotate(90)">6</text><text transform="translate(540.65,730.72) rotate(90) scale(1.14,1)">Z</text></g>
<g fill="#00f" font-size="10"><text transform="translate(547.67,719.6) rotate(90)">0</text><text transform="translate(547.67,725.16) rotate(90)">9</text><text transform="translate(547.67,730.72) rotate(90) scale(1.14,1)">Z</text></g>
<g fill="#00f" font-size="10"><path transform="translate(554.7,719.6) rotate(90) scale(10)" d="M0.23 0V-0.705H0.33V0ZM0.23-0.705L0.085-0.55V-0.47L0.23-0.59Z"/><text transform="translate(554.7,725.16) rotate(90)">2</text><text transform="translate(554.7,730.72) rotate(90) scale(1.14,1)">Z</text></g>
<g fill="#00f" font-size="10"><path transform="translate(561.73,719.6) rotate(90) scale(10)" d="M0.23 0V-0.705H0.33V0ZM0.23-0.705L0.085-0.55V-0.47L0.23-0.59Z"/><text transform="translate(561.73,725.16) rotate(90)">5</text><text transform="translate(561.73,730.72) rotate(90) scale(1.14,1)">Z</text></g>
<g fill="#00f" font-size="10"><path transform="translate(568.75,719.6) rotate(90) scale(10)" d="M0.23 0V-0.705H0.33V0ZM0.23-0.705L0.085-0.55V-0.47L0.23-0.59Z"/><text transform="translate(568.75,725.16) rotate(90)">8</text><text transform="translate(568.75,730.72) rotate(90) scale(1.14,1)">Z</text></g>
<g fill="#00f" font-size="10"><text transform="translate(575.78,719.6) rotate(90)">2</text><path transform="translate(575.78,725.16) rotate(90) scale(10)" d="M0.23 0V-0.705H0.33V0ZM0.23-0.705L0.085-0.55V-0.47L0.23-0.59Z"/><text transform="translate(575.78,730.72) rotate(90) scale(1.14,1)">Z</text></g>
<g fill="#00f" font-size="10"><text transform="translate(582.8,719.6) rotate(90)">0</text><text transform="translate(582.8,725.16) rotate(90)">0</text><text transform="translate(582.8,730.72) rotate(90) scale(1.14,1)">Z</text></g>
<g fill="#00f" font-size="10"><text transform="translate(589.83,719.6) rotate(90)">0</text><text transform="translate(589.83,725.16) rotate(90)">3</text><text transform="translate(589.83,730.72) rotate(90) scale(1.14,1)">Z</text></g>
<g fill="#00f" font-size="10"><text transform="translate(596.85,719.6) rotate(90)">0</text><text transform="translate(596.85,725.16) rotate(90)">6</text><text transform="translate(596.85,730.72) rotate(90) scale(1.14,1)">Z</text></g>
<g fill="#00f" font-size="10"><text transform="translate(603.88,719.6) rotate(90)">0</text><text transform="translate(603.88,725.16) rotate(90)">9</text><text transform="translate(603.88,730.72) rotate(90) scale(1.14,1)">Z</text></g>
<g fill="#00f" font-size="10"><path transform="translate(610.9,719.6) rotate(90) scale(10)" d="M0.23 0V-0.705H0.33V0ZM0.23-0.705L0.085-0.55V-0.47L0.23-0.59Z"/><text transform="translate(610.9,725.16) rotate(90)">2</text><text transform="translate(610.9,730.72) rotate(90) scale(1.14,1)">Z</text></g>
<g fill="#00f" font-size="10"><path transform="translate(617.93,719.6) rotate(90) scale(10)" d="M0.23 0V-0.705H0.33V0ZM0.23-0.705L0.085-0.55V-0.47L0.23-0.59Z"/><text transform="translate(617.93,725.16) rotate(90)">5</text><text transform="translate(617.93,730.72) rotate(90) scale(1.14,1)">Z</text></g>
<g fill="#00f" font-size="10"><path transform="translate(624.95,719.6) rotate(90) scale(10)" d="M0.23 0V-0.705H0.33V0ZM0.23-0.705L0.085-0.55V-0.47L0.23-0.59Z"/><text transform="translate(624.95,725.16) rotate(90)">8</text><text transform="translate(624.95,730.72) rotate(90) scale(1.14,1)">Z</text></g>
<g fill="#00f" font-size="10"><text transform="translate(631.98,719.6) rotate(90)">2</text><path transform="translate(631.98,725.16) rotate(90) scale(10)" d="M0.23 0V-0.705H0.33V0ZM0.23-0.705L0.085-0.55V-0.47L0.23-0.59Z"/><text transform="translate(631.98,730.72) rotate(90) scale(1.14,1)">Z</text></g>
<g fill="#00f" font-size="10"><text transform="translate(639,719.6) rotate(90)">0</text><text transform="translate(639,725.16) rotate(90)">0</text><text transform="translate(639,730.72) rotate(90) scale(1.14,1)">Z</text></g>
<text transform="translate(99.01,755.5) scale(1.0246,1)" font-size="12.06" fill="#00f" xml:space="preserve">FRI</text>
<g transform="translate(89.35,765.9) scale(0.9848,1)" fill="#00f"><text font-size="12.06" xml:space="preserve"> 4NOV</text><path transform="translate(0,0) scale(12.06)" d="M0.235 0H0.325V-0.688H0.262Q0.24-0.6 0.07-0.545V-0.47Q0.18-0.49 0.235-0.545Z"/></g>
<text transform="translate(154.01,756.7) scale(0.9796,1)" font-size="12.06" fill="#00f" xml:space="preserve">SAT</text>
<g transform="translate(146.27,767.9) scale(0.9640,1)" fill="#00f"><text font-size="12.06" xml:space="preserve"> 5NOV</text><path transform="translate(0,0) scale(12.06)" d="M0.235 0H0.325V-0.688H0.262Q0.24-0.6 0.07-0.545V-0.47Q0.18-0.49 0.235-0.545Z"/></g>
<text transform="translate(208.99,748) scale(1.0131,1)" font-size="12.06" fill="#00f" xml:space="preserve">SUN</text>
<g transform="translate(202.58,759) scale(0.9562,1)" fill="#00f"><text font-size="12.06" xml:space="preserve"> 6NOV</text><path transform="translate(0,0) scale(12.06)" d="M0.235 0H0.325V-0.688H0.262Q0.24-0.6 0.07-0.545V-0.47Q0.18-0.49 0.235-0.545Z"/></g>
<text transform="translate(264.25,749.9) scale(0.9894,1)" font-size="12.06" fill="#00f" xml:space="preserve">MON</text>
<g transform="translate(258.58,760.9) scale(0.9562,1)" fill="#00f"><text font-size="12.06" xml:space="preserve"> 7NOV</text><path transform="translate(0,0) scale(12.06)" d="M0.235 0H0.325V-0.688H0.262Q0.24-0.6 0.07-0.545V-0.47Q0.18-0.49 0.235-0.545Z"/></g>
<text transform="translate(322.27,750.7) scale(0.9656,1)" font-size="12.06" fill="#00f" xml:space="preserve">TUE</text>
<g transform="translate(314.55,761.8) scale(0.9796,1)" fill="#00f"><text font-size="12.06" xml:space="preserve"> 8NOV</text><path transform="translate(0,0) scale(12.06)" d="M0.235 0H0.325V-0.688H0.262Q0.24-0.6 0.07-0.545V-0.47Q0.18-0.49 0.235-0.545Z"/></g>
<text transform="translate(376.18,752.7) scale(0.9713,1)" font-size="12.06" fill="#00f" xml:space="preserve">WED</text>
<g transform="translate(370.55,763.7) scale(0.9796,1)" fill="#00f"><text font-size="12.06" xml:space="preserve"> 9NOV</text><path transform="translate(0,0) scale(12.06)" d="M0.235 0H0.325V-0.688H0.262Q0.24-0.6 0.07-0.545V-0.47Q0.18-0.49 0.235-0.545Z"/></g>
<text transform="translate(434.26,753.6) scale(0.9854,1)" font-size="12.06" fill="#00f" xml:space="preserve">THU</text>
<text transform="translate(426.91,764.8) scale(0.9705,1)" font-size="12.06" fill="#00f" xml:space="preserve">20NOV</text>
<text transform="translate(492.93,755.7) scale(1.0074,1)" font-size="12.06" fill="#00f" xml:space="preserve">FRI</text>
<g transform="translate(482.91,766.4) scale(0.9705,1)" fill="#00f"><text font-size="12.06" xml:space="preserve">2 NOV</text><path transform="translate(6.71,0) scale(12.06)" d="M0.235 0H0.325V-0.688H0.262Q0.24-0.6 0.07-0.545V-0.47Q0.18-0.49 0.235-0.545Z"/></g>
<text transform="translate(547.01,757) scale(0.9841,1)" font-size="12.06" fill="#00f" xml:space="preserve">SAT</text>
<text transform="translate(538.91,767.8) scale(0.9705,1)" font-size="12.06" fill="#00f" xml:space="preserve">22NOV</text>
<text transform="translate(602.29,747.9) scale(1.0131,1)" font-size="12.06" fill="#00f" xml:space="preserve">SUN</text>
<text transform="translate(594.89,758.8) scale(1.0040,1)" font-size="12.06" fill="#00f" xml:space="preserve">23NOV</text>
<text transform="translate(604.12,783.6) scale(0.9955,1)" font-size="16.13" fill="#00f" xml:space="preserve">NOAA (ARL)</text>
</svg>
</div></body></html>
